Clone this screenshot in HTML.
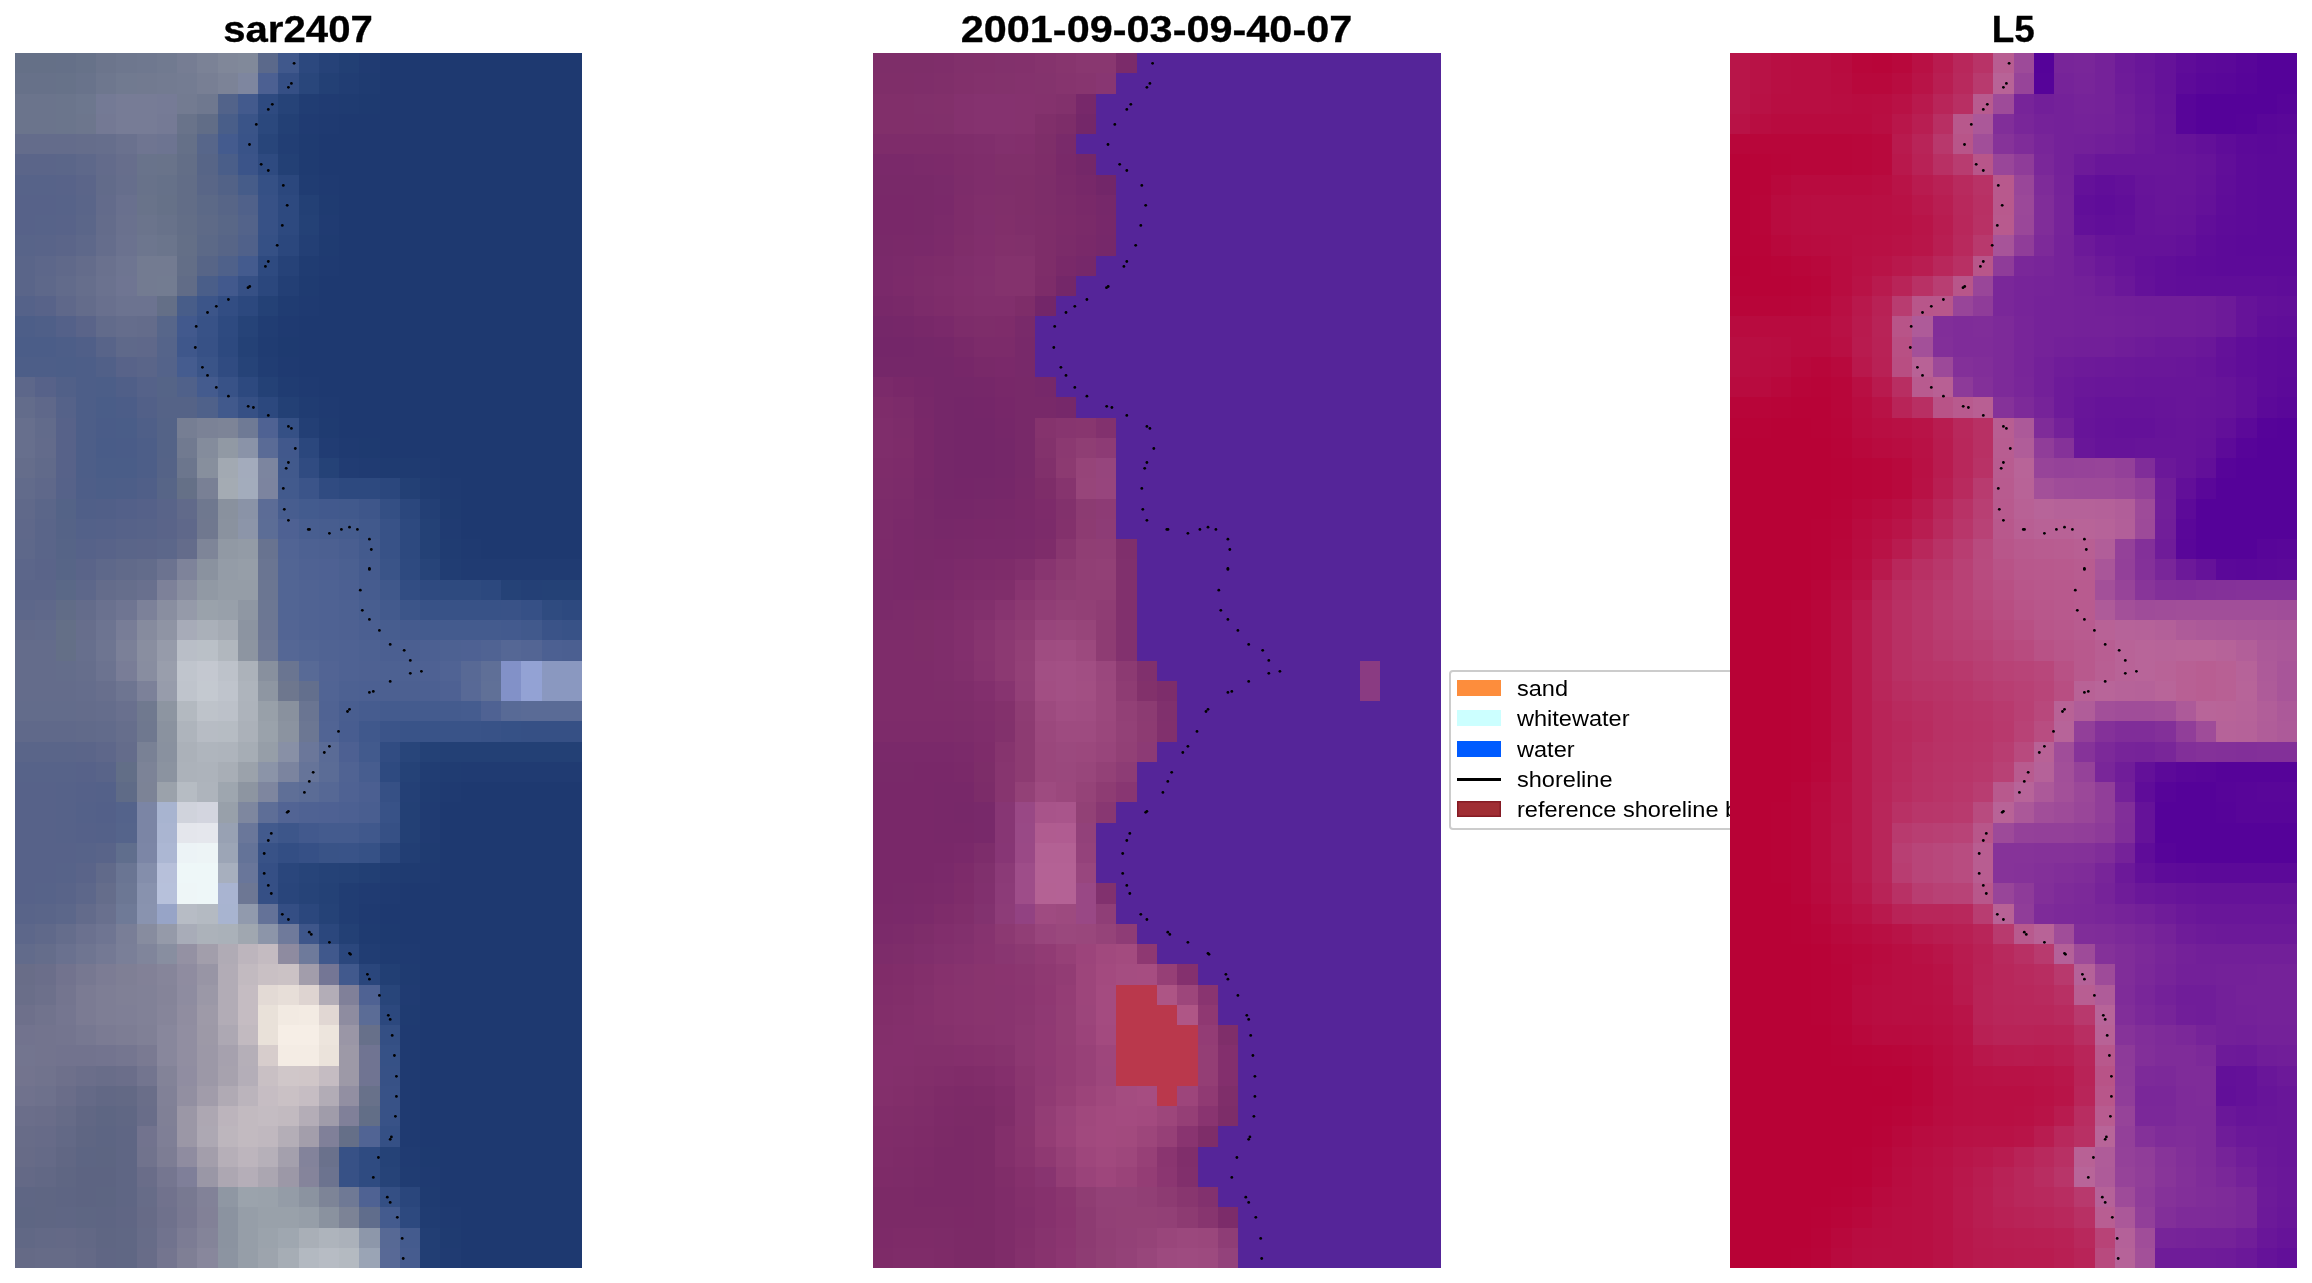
<!DOCTYPE html>
<html><head><meta charset="utf-8"><title>shoreline detection</title>
<style>
html,body{margin:0;padding:0;background:#fff}
body{width:2312px;height:1283px;position:relative;overflow:hidden;font-family:"Liberation Sans",sans-serif;color:#000}
.panel{position:absolute;top:53px;width:567px;height:1215px;overflow:hidden}
.panel svg{position:absolute;left:0;top:0;width:100%;height:1215px;display:block}
.dots circle{fill:#000}
.title{position:absolute;top:10px;height:40px;line-height:40px;font-weight:bold;font-size:36.5px;-webkit-text-stroke:0.3px #000;text-align:center;white-space:nowrap;width:567px}
.title span{display:inline-block;will-change:transform;transform:scaleX(1.08);transform-origin:50% 50%}
.legend{position:absolute;left:1449px;top:670px;width:330px;height:156px;border:2px solid #ccc;border-radius:4px;background:#fff;box-sizing:content-box}
.legend .it{position:absolute;left:6px;height:30px;width:340px}
.legend .sw{position:absolute;left:0;top:6px;width:44px;height:16px}
.legend .ln{position:absolute;left:0;top:13px;width:44px;height:3px;background:#000}
.legend .tx{position:absolute;left:60px;top:0;line-height:30px;font-size:22px;white-space:nowrap;will-change:transform;transform:scaleX(1.07);transform-origin:0 50%}
</style></head><body>

<div class="title" style="left:15px"><span style="transform:scaleX(1.1)">sar2407</span></div>
<div class="title" style="left:873px"><span style="transform:scaleX(1.135)">2001-09-03-09-40-07</span></div>
<div class="title" style="left:1730px"><span style="transform:scaleX(1.01)">L5</span></div>
<div class="panel" style="left:15px">
<svg class="im" viewBox="0 0 28 60" preserveAspectRatio="none" shape-rendering="crispEdges">
<path fill="#657087" d="M0 0h2v1h-2zM8 21h1v1h-1z"/>
<path fill="#657088" d="M2 0h1v1h-1zM8 4h1v1h-1z"/>
<path fill="#677289" d="M3 0h1v1h-1zM2 1h1v1h-1z"/>
<path fill="#6c758c" d="M4 0h1v1h-1z"/>
<path fill="#6e778e" d="M5 0h1v1h-1zM4 1h1v1h-1zM13 31h1v1h-1z"/>
<path fill="#6f788f" d="M6 0h1v1h-1zM9 2h1v1h-1zM9 22h1v1h-1zM6 33h1v1h-1z"/>
<path fill="#717a90" d="M7 0h1v1h-1zM5 1h1v1h-1zM8 19h1v1h-1z"/>
<path fill="#767d93" d="M8 0h1v1h-1z"/>
<path fill="#7b8296" d="M9 0h1v1h-1zM9 18h1v1h-1z"/>
<path fill="#808799" d="M10 0h1v1h-1z"/>
<path fill="#81899a" d="M11 0h1v1h-1z"/>
<path fill="#5b698b" d="M12 0h1v1h-1z"/>
<path fill="#40588c" d="M13 0h1v1h-1zM17 33h1v1h-1zM17 38h1v1h-1zM15 44h1v1h-1z"/>
<path fill="#2c487e" d="M14 0h1v1h-1zM11 12h1v1h-1zM12 17h1v1h-1zM23 26h1v1h-1zM18 47h1v1h-1z"/>
<path fill="#264278" d="M15 0h1v1h-1zM13 10h1v1h-1z"/>
<path fill="#223f74" d="M16 0h1v1h-1zM17 40h1v1h-1zM18 45h1v1h-1z"/>
<path fill="#203b72" d="M17 0h1v1h-1zM15 2h1v1h-1zM14 3h1v1h-1zM15 8h1v1h-1zM17 20h1v1h-1zM21 23h1v1h-1zM22 25h6v1h-6zM22 35h6v1h-6zM20 37h1v1h-1zM20 38h1v1h-1zM17 41h1v1h-1zM19 46h1v1h-1zM19 54h1v1h-1zM21 59h1v1h-1z"/>
<path fill="#1e3970" d="M18 0h10v1h-10zM18 1h10v1h-10zM18 2h10v1h-10zM16 3h12v1h-12zM15 4h13v1h-13zM15 5h13v1h-13zM16 6h12v1h-12zM16 7h12v1h-12zM16 8h12v1h-12zM16 9h12v1h-12zM16 10h12v1h-12zM15 11h13v1h-13zM15 12h13v1h-13zM14 13h14v1h-14zM14 14h14v1h-14zM14 15h14v1h-14zM15 16h13v1h-13zM16 17h12v1h-12zM16 18h12v1h-12zM18 19h10v1h-10zM21 20h7v1h-7zM22 21h6v1h-6zM22 22h6v1h-6zM22 23h6v1h-6zM23 24h5v1h-5zM22 36h6v1h-6zM21 37h7v1h-7zM21 38h7v1h-7zM21 39h7v1h-7zM21 40h7v1h-7zM19 41h9v1h-9zM18 42h10v1h-10zM19 43h9v1h-9zM20 44h8v1h-8zM20 45h8v1h-8zM20 46h8v1h-8zM20 47h8v1h-8zM20 48h8v1h-8zM20 49h8v1h-8zM20 50h8v1h-8zM20 51h8v1h-8zM20 52h8v1h-8zM20 53h8v1h-8zM21 54h7v1h-7zM21 55h7v1h-7zM21 56h7v1h-7zM22 57h6v1h-6zM22 58h6v1h-6zM22 59h6v1h-6z"/>
<path fill="#677189" d="M0 1h2v1h-2z"/>
<path fill="#69738b" d="M3 1h1v1h-1zM6 5h1v1h-1z"/>
<path fill="#727a90" d="M6 1h1v1h-1z"/>
<path fill="#737b91" d="M7 1h1v1h-1zM8 2h1v1h-1zM6 10h2v1h-2zM6 11h1v1h-1z"/>
<path fill="#747c92" d="M8 1h1v1h-1z"/>
<path fill="#787f94" d="M9 1h1v1h-1z"/>
<path fill="#7c8397" d="M10 1h1v1h-1zM6 35h1v1h-1z"/>
<path fill="#7e869f" d="M11 1h1v1h-1zM12 36h1v1h-1z"/>
<path fill="#4c6092" d="M12 1h1v1h-1zM16 26h1v1h-1zM20 29h1v1h-1zM26 29h1v1h-1zM17 31h1v1h-1zM20 31h1v1h-1zM16 37h1v1h-1z"/>
<path fill="#354f85" d="M13 1h1v1h-1zM12 40h1v1h-1zM12 41h1v1h-1z"/>
<path fill="#29467b" d="M14 1h1v1h-1z"/>
<path fill="#234075" d="M15 1h1v1h-1zM13 3h1v1h-1zM13 5h1v1h-1zM14 7h1v1h-1zM13 17h1v1h-1zM19 21h1v1h-1zM21 34h7v1h-7zM19 37h1v1h-1zM19 38h1v1h-1zM16 43h1v1h-1z"/>
<path fill="#213d73" d="M16 1h1v1h-1zM14 2h1v1h-1zM12 13h1v1h-1zM12 15h1v1h-1zM21 25h1v1h-1zM20 35h1v1h-1zM16 41h1v1h-1zM16 42h1v1h-1zM17 44h1v1h-1z"/>
<path fill="#1f3b71" d="M17 1h1v1h-1zM16 2h1v1h-1zM14 4h1v1h-1zM14 5h1v1h-1zM15 7h1v1h-1zM15 9h1v1h-1zM14 11h1v1h-1zM15 18h1v1h-1zM18 20h2v1h-2zM21 22h1v1h-1zM20 39h1v1h-1zM19 40h1v1h-1zM17 43h1v1h-1zM18 44h1v1h-1zM19 45h1v1h-1zM19 47h1v1h-1zM20 56h1v1h-1zM21 58h1v1h-1z"/>
<path fill="#6b748c" d="M0 2h2v1h-2zM0 3h2v1h-2zM6 8h1v1h-1z"/>
<path fill="#6b758c" d="M2 2h1v1h-1zM2 3h1v1h-1zM7 9h1v1h-1z"/>
<path fill="#6d778e" d="M3 2h1v1h-1z"/>
<path fill="#747a95" d="M4 2h1v1h-1z"/>
<path fill="#777c96" d="M5 2h2v1h-2zM5 3h2v1h-2z"/>
<path fill="#767b96" d="M7 2h1v1h-1z"/>
<path fill="#52638a" d="M10 2h1v1h-1z"/>
<path fill="#435a8d" d="M11 2h1v1h-1zM17 24h1v1h-1zM18 27h1v1h-1z"/>
<path fill="#2e4a80" d="M12 2h1v1h-1zM12 5h1v1h-1zM12 10h1v1h-1zM10 13h1v1h-1zM19 25h1v1h-1zM18 35h1v1h-1z"/>
<path fill="#264378" d="M13 2h1v1h-1zM11 13h1v1h-1zM11 15h1v1h-1zM14 41h1v1h-1zM18 55h1v1h-1z"/>
<path fill="#1e3a70" d="M17 2h1v1h-1zM13 14h1v1h-1zM17 19h1v1h-1zM18 43h1v1h-1zM20 54h1v1h-1z"/>
<path fill="#6d768d" d="M3 3h1v1h-1z"/>
<path fill="#747994" d="M4 3h1v1h-1zM4 44h1v1h-1z"/>
<path fill="#757a95" d="M7 3h1v1h-1z"/>
<path fill="#69738a" d="M8 3h1v1h-1zM7 5h1v1h-1zM6 7h1v1h-1z"/>
<path fill="#616d87" d="M9 3h1v1h-1z"/>
<path fill="#495e89" d="M10 3h1v1h-1z"/>
<path fill="#3a5488" d="M11 3h1v1h-1zM9 15h1v1h-1zM18 25h1v1h-1z"/>
<path fill="#2b487d" d="M12 3h1v1h-1z"/>
<path fill="#1f3a71" d="M15 3h1v1h-1zM15 6h1v1h-1zM15 10h1v1h-1zM14 12h1v1h-1zM13 13h1v1h-1zM13 15h1v1h-1zM14 16h1v1h-1zM15 17h1v1h-1zM16 19h1v1h-1zM20 20h1v1h-1zM21 21h1v1h-1zM22 24h1v1h-1zM21 36h1v1h-1zM20 40h1v1h-1zM18 41h1v1h-1zM17 42h1v1h-1zM19 44h1v1h-1zM19 48h1v1h-1zM19 49h1v1h-1zM19 50h1v1h-1zM19 51h1v1h-1zM19 52h1v1h-1zM19 53h1v1h-1zM20 55h1v1h-1zM21 57h1v1h-1z"/>
<path fill="#646c8b" d="M0 4h3v1h-3zM4 8h1v1h-1zM3 10h1v1h-1zM3 12h1v1h-1zM6 13h1v1h-1zM8 24h1v1h-1zM4 26h1v1h-1zM3 27h1v1h-1zM0 29h2v1h-2zM0 30h2v1h-2zM0 31h3v1h-3zM3 32h1v1h-1zM5 34h1v1h-1z"/>
<path fill="#656d8b" d="M3 4h1v1h-1zM0 20h1v1h-1zM4 41h1v1h-1zM1 44h1v1h-1z"/>
<path fill="#666e8c" d="M4 4h1v1h-1zM5 6h1v1h-1zM3 11h1v1h-1zM5 26h1v1h-1zM3 30h1v1h-1zM5 33h1v1h-1z"/>
<path fill="#6a718e" d="M5 4h1v1h-1zM5 8h1v1h-1zM4 10h1v1h-1z"/>
<path fill="#6f7591" d="M6 4h1v1h-1zM3 44h1v1h-1z"/>
<path fill="#6d7491" d="M7 4h1v1h-1zM4 28h1v1h-1z"/>
<path fill="#57668a" d="M9 4h1v1h-1zM7 13h1v1h-1z"/>
<path fill="#445b8e" d="M10 4h1v1h-1zM11 10h1v1h-1zM9 16h1v1h-1zM20 28h4v1h-4zM18 32h4v1h-4zM15 38h2v1h-2zM18 57h1v1h-1zM19 58h1v1h-1z"/>
<path fill="#395388" d="M11 4h1v1h-1zM19 33h4v1h-4zM16 39h1v1h-1z"/>
<path fill="#28457a" d="M12 4h1v1h-1zM19 34h1v1h-1zM18 46h1v1h-1z"/>
<path fill="#223e74" d="M13 4h1v1h-1zM19 39h1v1h-1zM20 58h1v1h-1zM20 59h1v1h-1z"/>
<path fill="#5b6589" d="M0 5h2v1h-2zM3 6h1v1h-1zM2 9h1v1h-1zM6 24h1v1h-1zM0 26h2v1h-2zM3 34h1v1h-1z"/>
<path fill="#5b6689" d="M2 5h1v1h-1zM3 8h1v1h-1zM1 22h1v1h-1z"/>
<path fill="#5e688a" d="M3 5h1v1h-1zM3 9h1v1h-1zM1 11h1v1h-1zM0 24h1v1h-1zM4 25h1v1h-1z"/>
<path fill="#636b8b" d="M4 5h1v1h-1zM4 7h1v1h-1zM1 19h1v1h-1zM3 42h1v1h-1z"/>
<path fill="#676e8c" d="M5 5h1v1h-1zM3 28h1v1h-1z"/>
<path fill="#636e87" d="M8 5h1v1h-1zM8 8h1v1h-1zM8 10h1v1h-1z"/>
<path fill="#576587" d="M9 5h1v1h-1zM10 7h1v1h-1zM10 9h1v1h-1zM9 10h1v1h-1zM7 21h1v1h-1zM2 25h1v1h-1z"/>
<path fill="#4a5e89" d="M10 5h1v1h-1zM9 11h1v1h-1z"/>
<path fill="#3b5489" d="M11 5h1v1h-1zM14 21h1v1h-1zM18 33h1v1h-1z"/>
<path fill="#576389" d="M0 6h2v1h-2zM2 7h1v1h-1zM1 8h1v1h-1zM6 23h1v1h-1zM0 35h3v1h-3zM3 39h1v1h-1zM2 40h1v1h-1zM1 41h1v1h-1z"/>
<path fill="#586389" d="M2 6h1v1h-1zM2 8h1v1h-1zM1 12h1v1h-1zM5 15h1v1h-1zM4 24h1v1h-1z"/>
<path fill="#626b8a" d="M4 6h1v1h-1z"/>
<path fill="#68728a" d="M6 6h1v1h-1zM7 8h1v1h-1z"/>
<path fill="#667189" d="M7 6h1v1h-1z"/>
<path fill="#626d87" d="M8 6h1v1h-1zM8 7h1v1h-1z"/>
<path fill="#596687" d="M9 6h1v1h-1z"/>
<path fill="#526287" d="M10 6h1v1h-1z"/>
<path fill="#465c89" d="M11 6h1v1h-1z"/>
<path fill="#355085" d="M12 6h1v1h-1zM12 9h1v1h-1zM13 18h1v1h-1zM18 53h1v1h-1z"/>
<path fill="#2b477d" d="M13 6h1v1h-1zM13 9h1v1h-1zM12 11h1v1h-1zM14 19h1v1h-1zM18 21h1v1h-1zM19 22h1v1h-1zM18 39h1v1h-1zM14 42h1v1h-1zM15 43h1v1h-1zM16 44h1v1h-1z"/>
<path fill="#203c72" d="M14 6h1v1h-1zM14 10h1v1h-1zM13 12h1v1h-1zM12 14h1v1h-1zM13 16h1v1h-1zM14 17h1v1h-1zM20 21h1v1h-1zM21 24h1v1h-1zM21 35h1v1h-1zM20 36h1v1h-1zM18 40h1v1h-1zM19 55h1v1h-1zM20 57h1v1h-1z"/>
<path fill="#576289" d="M0 7h2v1h-2zM0 8h1v1h-1zM1 16h1v1h-1zM2 18h1v1h-1zM2 19h1v1h-1zM2 20h1v1h-1zM3 35h1v1h-1zM0 36h2v1h-2zM0 37h2v1h-2zM0 38h2v1h-2zM0 39h3v1h-3zM0 40h2v1h-2zM0 41h1v1h-1z"/>
<path fill="#5a6589" d="M3 7h1v1h-1zM0 10h1v1h-1zM0 11h1v1h-1zM6 15h1v1h-1zM1 23h1v1h-1zM1 24h1v1h-1zM5 24h1v1h-1zM0 34h3v1h-3zM1 42h1v1h-1z"/>
<path fill="#69708e" d="M5 7h1v1h-1zM4 12h1v1h-1zM6 26h1v1h-1zM5 32h1v1h-1zM4 42h1v1h-1z"/>
<path fill="#667188" d="M7 7h1v1h-1z"/>
<path fill="#5c6987" d="M9 7h1v1h-1zM9 9h1v1h-1z"/>
<path fill="#50618a" d="M11 7h1v1h-1zM11 9h1v1h-1zM8 16h1v1h-1z"/>
<path fill="#375186" d="M12 7h1v1h-1zM12 8h1v1h-1zM9 14h1v1h-1zM18 50h1v1h-1zM16 54h1v1h-1zM16 55h1v1h-1z"/>
<path fill="#2d497f" d="M13 7h1v1h-1zM13 8h1v1h-1zM10 14h1v1h-1zM11 16h1v1h-1zM16 21h2v1h-2zM19 23h1v1h-1zM19 24h1v1h-1zM27 27h1v1h-1zM19 57h1v1h-1z"/>
<path fill="#5e6a87" d="M9 8h1v1h-1z"/>
<path fill="#596787" d="M10 8h1v1h-1z"/>
<path fill="#53638a" d="M11 8h1v1h-1z"/>
<path fill="#244176" d="M14 8h1v1h-1zM12 12h1v1h-1zM11 14h1v1h-1zM12 16h1v1h-1zM20 23h1v1h-1zM20 24h1v1h-1zM26 26h2v1h-2zM20 34h1v1h-1zM16 40h1v1h-1zM15 41h1v1h-1z"/>
<path fill="#586489" d="M0 9h1v1h-1zM4 14h1v1h-1z"/>
<path fill="#596489" d="M1 9h1v1h-1zM7 22h1v1h-1zM4 35h1v1h-1zM4 39h1v1h-1zM2 41h1v1h-1zM0 42h1v1h-1z"/>
<path fill="#656d8c" d="M4 9h1v1h-1zM5 13h1v1h-1zM3 31h1v1h-1zM4 32h1v1h-1zM2 43h1v1h-1z"/>
<path fill="#6b728f" d="M5 9h1v1h-1zM4 11h1v1h-1z"/>
<path fill="#6d768e" d="M6 9h1v1h-1z"/>
<path fill="#646f87" d="M8 9h1v1h-1zM7 12h1v1h-1zM2 28h1v1h-1zM2 29h1v1h-1z"/>
<path fill="#233f75" d="M14 9h1v1h-1zM13 11h1v1h-1zM14 18h1v1h-1zM20 22h1v1h-1z"/>
<path fill="#5d678a" d="M1 10h1v1h-1zM0 16h1v1h-1zM3 26h1v1h-1zM0 27h1v1h-1zM3 41h1v1h-1zM0 43h1v1h-1z"/>
<path fill="#60698a" d="M2 10h1v1h-1zM0 22h1v1h-1zM0 33h3v1h-3zM1 43h1v1h-1z"/>
<path fill="#6e7591" d="M5 10h1v1h-1zM4 29h1v1h-1zM5 31h1v1h-1z"/>
<path fill="#4f618a" d="M10 10h1v1h-1zM9 17h1v1h-1z"/>
<path fill="#626b8b" d="M2 11h1v1h-1zM4 13h1v1h-1zM1 18h1v1h-1zM0 21h1v1h-1zM1 28h1v1h-1zM4 33h1v1h-1zM0 44h1v1h-1z"/>
<path fill="#6f7592" d="M5 11h1v1h-1zM5 27h1v1h-1zM4 43h1v1h-1z"/>
<path fill="#737c91" d="M7 11h1v1h-1z"/>
<path fill="#616c87" d="M8 11h1v1h-1zM2 27h1v1h-1z"/>
<path fill="#42598d" d="M10 11h1v1h-1zM8 13h1v1h-1zM15 22h1v1h-1zM14 38h1v1h-1z"/>
<path fill="#365085" d="M11 11h1v1h-1zM11 17h1v1h-1zM25 33h3v1h-3zM18 36h1v1h-1zM18 38h1v1h-1z"/>
<path fill="#556289" d="M0 12h1v1h-1zM6 16h1v1h-1zM2 17h1v1h-1z"/>
<path fill="#5f688a" d="M2 12h1v1h-1zM6 14h1v1h-1zM1 17h1v1h-1zM1 21h1v1h-1zM0 23h1v1h-1zM8 23h1v1h-1zM1 27h1v1h-1z"/>
<path fill="#6c7390" d="M5 12h2v1h-2zM7 25h1v1h-1zM4 30h1v1h-1z"/>
<path fill="#485d89" d="M8 12h1v1h-1z"/>
<path fill="#3c5589" d="M9 12h1v1h-1zM19 27h1v1h-1z"/>
<path fill="#324d83" d="M10 12h1v1h-1zM19 26h1v1h-1z"/>
<path fill="#4d5e88" d="M0 13h1v1h-1zM2 14h1v1h-1zM0 15h2v1h-2zM3 15h1v1h-1zM3 16h1v1h-1zM3 17h1v1h-1zM3 18h1v1h-1zM3 19h1v1h-1zM6 19h1v1h-1zM3 20h1v1h-1zM6 20h1v1h-1zM5 21h1v1h-1z"/>
<path fill="#4f5f88" d="M1 13h1v1h-1zM6 18h1v1h-1z"/>
<path fill="#546189" d="M2 13h1v1h-1zM4 23h1v1h-1zM4 36h1v1h-1zM3 37h1v1h-1zM4 38h1v1h-1z"/>
<path fill="#5a6489" d="M3 13h1v1h-1zM7 23h1v1h-1zM1 25h1v1h-1zM3 25h1v1h-1zM3 40h1v1h-1z"/>
<path fill="#385287" d="M9 13h1v1h-1zM10 16h1v1h-1zM18 23h1v1h-1zM18 24h1v1h-1zM20 27h4v1h-4zM27 28h1v1h-1zM23 33h1v1h-1zM18 37h1v1h-1zM12 39h1v1h-1zM18 51h1v1h-1zM18 52h1v1h-1z"/>
<path fill="#4b5d88" d="M0 14h2v1h-2z"/>
<path fill="#505f88" d="M3 14h1v1h-1zM5 16h1v1h-1zM6 21h1v1h-1zM3 22h1v1h-1z"/>
<path fill="#5f698a" d="M5 14h1v1h-1z"/>
<path fill="#55648a" d="M7 14h1v1h-1z"/>
<path fill="#3f578b" d="M8 14h1v1h-1z"/>
<path fill="#4c5e88" d="M2 15h1v1h-1zM4 16h1v1h-1zM4 21h1v1h-1z"/>
<path fill="#516088" d="M4 15h1v1h-1zM2 16h1v1h-1z"/>
<path fill="#54638a" d="M7 15h1v1h-1z"/>
<path fill="#455c8f" d="M8 15h1v1h-1zM22 32h1v1h-1z"/>
<path fill="#304b81" d="M10 15h1v1h-1zM14 20h1v1h-1zM15 21h1v1h-1z"/>
<path fill="#556487" d="M7 16h1v1h-1z"/>
<path fill="#636c8b" d="M0 17h1v1h-1zM6 25h1v1h-1zM0 32h3v1h-3z"/>
<path fill="#4a5d88" d="M4 17h1v1h-1zM5 18h1v1h-1zM4 20h2v1h-2z"/>
<path fill="#4c5d88" d="M5 17h1v1h-1z"/>
<path fill="#526088" d="M6 17h1v1h-1z"/>
<path fill="#556387" d="M7 17h2v1h-2zM7 20h1v1h-1zM2 23h1v1h-1z"/>
<path fill="#41598c" d="M10 17h1v1h-1zM13 20h1v1h-1zM16 22h1v1h-1zM17 23h1v1h-1zM25 28h1v1h-1z"/>
<path fill="#676f8d" d="M0 18h1v1h-1zM0 19h1v1h-1zM3 29h1v1h-1z"/>
<path fill="#4a5c88" d="M4 18h1v1h-1zM5 19h1v1h-1z"/>
<path fill="#546387" d="M7 18h1v1h-1zM7 19h1v1h-1zM2 22h1v1h-1z"/>
<path fill="#767e93" d="M8 18h1v1h-1z"/>
<path fill="#7d8497" d="M10 18h1v1h-1zM15 56h1v1h-1z"/>
<path fill="#6f7a95" d="M11 18h1v1h-1z"/>
<path fill="#4f6293" d="M12 18h1v1h-1zM14 25h1v1h-1zM15 27h1v1h-1zM15 28h1v1h-1zM16 29h1v1h-1zM16 30h1v1h-1zM23 32h1v1h-1zM16 36h1v1h-1zM14 37h1v1h-1zM17 46h1v1h-1zM17 56h1v1h-1z"/>
<path fill="#495c88" d="M4 19h1v1h-1z"/>
<path fill="#848c9c" d="M9 19h1v1h-1z"/>
<path fill="#9199a4" d="M10 19h1v1h-1zM10 24h1v1h-1zM9 26h1v1h-1z"/>
<path fill="#8a93a8" d="M11 19h1v1h-1z"/>
<path fill="#5a6b96" d="M12 19h1v1h-1zM25 32h3v1h-3zM15 34h1v1h-1z"/>
<path fill="#41588c" d="M13 19h1v1h-1z"/>
<path fill="#213c73" d="M15 19h1v1h-1zM16 20h1v1h-1z"/>
<path fill="#616a8a" d="M1 20h1v1h-1zM8 22h1v1h-1zM5 25h1v1h-1zM3 33h1v1h-1zM4 40h1v1h-1z"/>
<path fill="#6c768d" d="M8 20h1v1h-1z"/>
<path fill="#878f9d" d="M9 20h1v1h-1z"/>
<path fill="#a2a9b2" d="M10 20h1v1h-1z"/>
<path fill="#a3abbc" d="M11 20h1v1h-1z"/>
<path fill="#7c859f" d="M12 20h1v1h-1z"/>
<path fill="#254277" d="M15 20h1v1h-1zM24 26h1v1h-1zM19 35h1v1h-1zM15 40h1v1h-1zM15 42h1v1h-1zM18 54h1v1h-1z"/>
<path fill="#566289" d="M2 21h1v1h-1zM5 23h1v1h-1zM3 24h1v1h-1zM2 36h1v1h-1zM2 37h1v1h-1zM2 38h1v1h-1z"/>
<path fill="#4e5e88" d="M3 21h1v1h-1z"/>
<path fill="#798095" d="M9 21h1v1h-1z"/>
<path fill="#a4abb3" d="M10 21h1v1h-1z"/>
<path fill="#a3acbc" d="M11 21h1v1h-1z"/>
<path fill="#7c849f" d="M12 21h1v1h-1z"/>
<path fill="#425a8d" d="M13 21h1v1h-1zM17 34h1v1h-1zM12 38h1v1h-1z"/>
<path fill="#515f88" d="M4 22h1v1h-1z"/>
<path fill="#536089" d="M5 22h1v1h-1zM4 37h1v1h-1z"/>
<path fill="#556189" d="M6 22h1v1h-1zM3 36h1v1h-1zM3 38h1v1h-1z"/>
<path fill="#89919e" d="M10 22h1v1h-1zM13 32h1v1h-1z"/>
<path fill="#8a93a7" d="M11 22h1v1h-1z"/>
<path fill="#5c6c96" d="M12 22h1v1h-1z"/>
<path fill="#475d8f" d="M13 22h1v1h-1zM15 23h1v1h-1zM18 28h1v1h-1zM17 35h1v1h-1z"/>
<path fill="#435b8e" d="M14 22h1v1h-1z"/>
<path fill="#3e568a" d="M17 22h1v1h-1zM14 43h1v1h-1z"/>
<path fill="#344f84" d="M18 22h1v1h-1zM18 48h1v1h-1zM18 56h1v1h-1z"/>
<path fill="#536189" d="M3 23h1v1h-1z"/>
<path fill="#70788f" d="M9 23h1v1h-1z"/>
<path fill="#8a929f" d="M10 23h1v1h-1zM9 25h1v1h-1zM7 33h1v1h-1zM15 57h1v1h-1z"/>
<path fill="#8c95a9" d="M11 23h1v1h-1zM12 43h1v1h-1z"/>
<path fill="#5c6d96" d="M12 23h1v1h-1z"/>
<path fill="#4e6193" d="M13 23h1v1h-1zM15 25h1v1h-1zM22 29h1v1h-1zM20 30h1v1h-1zM21 31h1v1h-1zM15 37h1v1h-1z"/>
<path fill="#485e90" d="M14 23h1v1h-1zM17 27h1v1h-1z"/>
<path fill="#455c8e" d="M16 23h1v1h-1z"/>
<path fill="#566487" d="M2 24h1v1h-1z"/>
<path fill="#5c678a" d="M7 24h1v1h-1zM2 42h1v1h-1z"/>
<path fill="#7e8598" d="M9 24h1v1h-1z"/>
<path fill="#939ba6" d="M11 24h1v1h-1z"/>
<path fill="#687390" d="M12 24h1v1h-1z"/>
<path fill="#516494" d="M13 24h1v1h-1zM15 31h1v1h-1zM15 33h1v1h-1zM17 53h1v1h-1z"/>
<path fill="#4d6192" d="M14 24h1v1h-1zM16 27h1v1h-1zM17 29h1v1h-1zM21 29h1v1h-1zM18 30h2v1h-2zM16 31h1v1h-1z"/>
<path fill="#4c6091" d="M15 24h1v1h-1zM18 31h2v1h-2z"/>
<path fill="#495e90" d="M16 24h1v1h-1zM16 32h1v1h-1zM17 37h1v1h-1z"/>
<path fill="#5c668a" d="M0 25h1v1h-1z"/>
<path fill="#7e839a" d="M8 25h1v1h-1z"/>
<path fill="#949ca7" d="M10 25h1v1h-1zM13 56h1v1h-1z"/>
<path fill="#969ea8" d="M11 25h1v1h-1zM12 34h1v1h-1zM11 57h1v1h-1zM14 57h1v1h-1zM11 58h1v1h-1zM11 59h1v1h-1z"/>
<path fill="#6a7592" d="M12 25h1v1h-1zM14 32h1v1h-1z"/>
<path fill="#526594" d="M13 25h1v1h-1zM13 26h1v1h-1zM13 27h1v1h-1zM14 29h1v1h-1z"/>
<path fill="#4b6091" d="M16 25h1v1h-1z"/>
<path fill="#455b8e" d="M17 25h1v1h-1zM19 28h1v1h-1z"/>
<path fill="#274479" d="M20 25h1v1h-1zM14 40h1v1h-1z"/>
<path fill="#5a6887" d="M2 26h1v1h-1z"/>
<path fill="#7d8199" d="M7 26h1v1h-1z"/>
<path fill="#898ea0" d="M8 26h1v1h-1zM7 27h1v1h-1zM6 29h1v1h-1z"/>
<path fill="#959da7" d="M10 26h2v1h-2z"/>
<path fill="#6b7692" d="M12 26h1v1h-1z"/>
<path fill="#506393" d="M14 26h1v1h-1zM14 27h1v1h-1zM14 28h1v1h-1zM15 29h1v1h-1zM23 29h1v1h-1zM15 32h1v1h-1zM16 35h1v1h-1z"/>
<path fill="#4e6293" d="M15 26h1v1h-1z"/>
<path fill="#465c8f" d="M17 26h1v1h-1zM17 32h1v1h-1zM19 59h1v1h-1z"/>
<path fill="#40588b" d="M18 26h1v1h-1z"/>
<path fill="#2f4a80" d="M20 26h1v1h-1z"/>
<path fill="#2e4a7f" d="M21 26h2v1h-2z"/>
<path fill="#244076" d="M25 26h1v1h-1zM19 36h1v1h-1z"/>
<path fill="#6a718f" d="M4 27h1v1h-1zM2 44h1v1h-1z"/>
<path fill="#7c8199" d="M6 27h1v1h-1zM6 31h1v1h-1z"/>
<path fill="#959aa9" d="M8 27h1v1h-1zM7 43h1v1h-1z"/>
<path fill="#9aa2ab" d="M9 27h1v1h-1zM12 33h1v1h-1zM12 56h1v1h-1z"/>
<path fill="#98a0aa" d="M10 27h1v1h-1zM10 37h1v1h-1z"/>
<path fill="#8f97a3" d="M11 27h1v1h-1zM10 56h1v1h-1z"/>
<path fill="#6c7793" d="M12 27h1v1h-1zM14 33h1v1h-1z"/>
<path fill="#395287" d="M24 27h1v1h-1z"/>
<path fill="#365086" d="M25 27h1v1h-1zM14 39h1v1h-1z"/>
<path fill="#2f4b80" d="M26 27h1v1h-1z"/>
<path fill="#626a8a" d="M0 28h1v1h-1z"/>
<path fill="#787d97" d="M5 28h1v1h-1z"/>
<path fill="#868b9e" d="M6 28h1v1h-1z"/>
<path fill="#8f94a4" d="M7 28h1v1h-1z"/>
<path fill="#a7abb8" d="M8 28h1v1h-1z"/>
<path fill="#aab0b9" d="M9 28h1v1h-1z"/>
<path fill="#a5abb4" d="M10 28h1v1h-1z"/>
<path fill="#8c94a1" d="M11 28h1v1h-1zM10 59h1v1h-1z"/>
<path fill="#6d7794" d="M12 28h1v1h-1zM11 41h1v1h-1z"/>
<path fill="#536594" d="M13 28h1v1h-1zM25 29h1v1h-1z"/>
<path fill="#4e6192" d="M16 28h1v1h-1zM17 30h1v1h-1z"/>
<path fill="#4b5f91" d="M17 28h1v1h-1zM18 29h2v1h-2zM27 29h1v1h-1zM17 36h1v1h-1z"/>
<path fill="#435a8e" d="M24 28h1v1h-1z"/>
<path fill="#3a5388" d="M26 28h1v1h-1z"/>
<path fill="#7b8098" d="M5 29h1v1h-1z"/>
<path fill="#969baa" d="M7 29h1v1h-1z"/>
<path fill="#b9bec7" d="M8 29h1v1h-1z"/>
<path fill="#bac0c7" d="M9 29h1v1h-1z"/>
<path fill="#b1b7be" d="M10 29h1v1h-1z"/>
<path fill="#8d95a1" d="M11 29h1v1h-1zM7 32h1v1h-1zM11 36h1v1h-1z"/>
<path fill="#6f7995" d="M12 29h1v1h-1zM16 56h1v1h-1z"/>
<path fill="#556795" d="M13 29h1v1h-1zM24 29h1v1h-1z"/>
<path fill="#646d8b" d="M2 30h1v1h-1z"/>
<path fill="#797d97" d="M5 30h1v1h-1z"/>
<path fill="#888da0" d="M6 30h1v1h-1z"/>
<path fill="#999eac" d="M7 30h1v1h-1z"/>
<path fill="#c0c5cd" d="M8 30h1v1h-1z"/>
<path fill="#c4c8d0" d="M9 30h1v1h-1z"/>
<path fill="#bdc2ca" d="M10 30h1v1h-1z"/>
<path fill="#acb2ba" d="M11 30h1v1h-1zM8 35h1v1h-1zM9 43h1v1h-1z"/>
<path fill="#88909e" d="M12 30h1v1h-1z"/>
<path fill="#6a7591" d="M13 30h1v1h-1z"/>
<path fill="#586a96" d="M14 30h1v1h-1zM24 32h1v1h-1z"/>
<path fill="#526494" d="M15 30h1v1h-1zM13 37h1v1h-1z"/>
<path fill="#506394" d="M21 30h1v1h-1z"/>
<path fill="#586995" d="M22 30h1v1h-1z"/>
<path fill="#5f6f97" d="M23 30h1v1h-1zM13 36h1v1h-1z"/>
<path fill="#8291c8" d="M24 30h1v1h-1zM24 31h1v1h-1z"/>
<path fill="#93a2d4" d="M25 30h1v1h-1zM25 31h1v1h-1z"/>
<path fill="#8a98c0" d="M26 30h2v1h-2zM26 31h2v1h-2z"/>
<path fill="#686f8d" d="M4 31h1v1h-1z"/>
<path fill="#979cab" d="M7 31h1v1h-1z"/>
<path fill="#bfc4cc" d="M8 31h1v1h-1zM10 31h1v1h-1z"/>
<path fill="#c4c9d0" d="M9 31h1v1h-1z"/>
<path fill="#aeb4bc" d="M11 31h1v1h-1zM8 33h1v1h-1zM10 34h1v1h-1zM9 36h1v1h-1zM15 58h1v1h-1z"/>
<path fill="#8e96a2" d="M12 31h1v1h-1z"/>
<path fill="#636f8d" d="M14 31h1v1h-1z"/>
<path fill="#586996" d="M22 31h1v1h-1zM18 59h1v1h-1z"/>
<path fill="#607097" d="M23 31h1v1h-1z"/>
<path fill="#70798f" d="M6 32h1v1h-1z"/>
<path fill="#b3b9c0" d="M8 32h1v1h-1z"/>
<path fill="#bec3ca" d="M9 32h1v1h-1z"/>
<path fill="#bcc1c9" d="M10 32h1v1h-1z"/>
<path fill="#adb3bb" d="M11 32h1v1h-1zM9 35h1v1h-1z"/>
<path fill="#98a0a9" d="M12 32h1v1h-1z"/>
<path fill="#b7bcc4" d="M9 33h1v1h-1zM15 59h1v1h-1z"/>
<path fill="#b6bcc3" d="M10 33h1v1h-1zM8 36h1v1h-1z"/>
<path fill="#abb1b9" d="M11 33h1v1h-1zM8 34h1v1h-1z"/>
<path fill="#8b93a0" d="M13 33h1v1h-1zM7 35h1v1h-1zM14 56h1v1h-1zM10 57h1v1h-1zM10 58h1v1h-1z"/>
<path fill="#485d90" d="M16 33h1v1h-1z"/>
<path fill="#365186" d="M24 33h1v1h-1zM17 39h1v1h-1zM18 49h1v1h-1z"/>
<path fill="#5e678a" d="M4 34h1v1h-1z"/>
<path fill="#798195" d="M6 34h1v1h-1z"/>
<path fill="#89919f" d="M7 34h1v1h-1z"/>
<path fill="#afb5bd" d="M9 34h1v1h-1z"/>
<path fill="#a6adb5" d="M11 34h1v1h-1zM13 59h1v1h-1z"/>
<path fill="#8890a6" d="M13 34h1v1h-1z"/>
<path fill="#6b779a" d="M14 34h1v1h-1z"/>
<path fill="#4d6092" d="M16 34h1v1h-1z"/>
<path fill="#314c82" d="M18 34h1v1h-1z"/>
<path fill="#626e87" d="M5 35h1v1h-1zM17 52h1v1h-1z"/>
<path fill="#a8aeb6" d="M10 35h1v1h-1z"/>
<path fill="#9ba2ab" d="M11 35h1v1h-1zM7 36h1v1h-1z"/>
<path fill="#8b94a8" d="M12 35h1v1h-1z"/>
<path fill="#7b849f" d="M13 35h1v1h-1z"/>
<path fill="#667499" d="M14 35h1v1h-1z"/>
<path fill="#5b6c96" d="M15 35h1v1h-1zM14 36h1v1h-1zM17 47h1v1h-1z"/>
<path fill="#5f6b87" d="M5 36h1v1h-1z"/>
<path fill="#7c8396" d="M6 36h1v1h-1zM16 57h1v1h-1z"/>
<path fill="#9ea6af" d="M10 36h1v1h-1z"/>
<path fill="#566895" d="M15 36h1v1h-1z"/>
<path fill="#54638b" d="M5 37h1v1h-1z"/>
<path fill="#7b85a5" d="M6 37h1v1h-1zM6 38h1v1h-1z"/>
<path fill="#a8b4d0" d="M7 37h1v1h-1zM10 42h1v1h-1z"/>
<path fill="#d0d3dc" d="M8 37h1v1h-1z"/>
<path fill="#d3d5df" d="M9 37h1v1h-1z"/>
<path fill="#7e879f" d="M11 37h1v1h-1z"/>
<path fill="#5e6e97" d="M12 37h1v1h-1z"/>
<path fill="#55648b" d="M5 38h1v1h-1z"/>
<path fill="#aab5d1" d="M7 38h1v1h-1z"/>
<path fill="#e4e6ec" d="M8 38h1v1h-1z"/>
<path fill="#e5e7ed" d="M9 38h1v1h-1z"/>
<path fill="#98a1b3" d="M10 38h1v1h-1z"/>
<path fill="#6a779a" d="M11 38h1v1h-1z"/>
<path fill="#3d568a" d="M13 38h1v1h-1z"/>
<path fill="#606e8d" d="M5 39h1v1h-1z"/>
<path fill="#7c86a6" d="M6 39h1v1h-1z"/>
<path fill="#acb7d3" d="M7 39h1v1h-1z"/>
<path fill="#ecf3f6" d="M8 39h1v1h-1z"/>
<path fill="#edf4f6" d="M9 39h1v1h-1z"/>
<path fill="#9ca5b6" d="M10 39h1v1h-1z"/>
<path fill="#647398" d="M11 39h1v1h-1z"/>
<path fill="#334e84" d="M13 39h1v1h-1z"/>
<path fill="#395387" d="M15 39h1v1h-1z"/>
<path fill="#6a7593" d="M5 40h1v1h-1z"/>
<path fill="#848eab" d="M6 40h1v1h-1z"/>
<path fill="#b7c0da" d="M7 40h1v1h-1z"/>
<path fill="#eef7f8" d="M8 40h2v1h-2zM9 41h1v1h-1z"/>
<path fill="#a7afbe" d="M10 40h1v1h-1z"/>
<path fill="#69769a" d="M11 40h1v1h-1z"/>
<path fill="#2a467c" d="M13 40h1v1h-1zM17 45h1v1h-1zM19 56h1v1h-1z"/>
<path fill="#6c7794" d="M5 41h1v1h-1z"/>
<path fill="#8892ae" d="M6 41h1v1h-1z"/>
<path fill="#b7c1db" d="M7 41h1v1h-1z"/>
<path fill="#eef6f7" d="M8 41h1v1h-1z"/>
<path fill="#a9b4d1" d="M10 41h1v1h-1z"/>
<path fill="#29457b" d="M13 41h1v1h-1z"/>
<path fill="#6f7a97" d="M5 42h1v1h-1z"/>
<path fill="#8993af" d="M6 42h1v1h-1z"/>
<path fill="#97a4c7" d="M7 42h1v1h-1z"/>
<path fill="#b7bcc5" d="M8 42h1v1h-1z"/>
<path fill="#b4bac2" d="M9 42h1v1h-1z"/>
<path fill="#919aad" d="M11 42h1v1h-1z"/>
<path fill="#647298" d="M12 42h1v1h-1z"/>
<path fill="#344e84" d="M13 42h1v1h-1z"/>
<path fill="#6b718f" d="M3 43h1v1h-1z"/>
<path fill="#797e97" d="M5 43h1v1h-1z"/>
<path fill="#878c9f" d="M6 43h1v1h-1z"/>
<path fill="#a8acb8" d="M8 43h1v1h-1z"/>
<path fill="#aab1b9" d="M10 43h1v1h-1z"/>
<path fill="#a0a7b0" d="M11 43h1v1h-1z"/>
<path fill="#6f7a9b" d="M13 43h1v1h-1z"/>
<path fill="#7a7f98" d="M5 44h1v1h-1z"/>
<path fill="#80859b" d="M6 44h1v1h-1z"/>
<path fill="#888ea0" d="M7 44h1v1h-1z"/>
<path fill="#9491a3" d="M8 44h1v1h-1z"/>
<path fill="#a29eab" d="M9 44h1v1h-1z"/>
<path fill="#b0abb5" d="M10 44h1v1h-1z"/>
<path fill="#bdb5bd" d="M11 44h1v1h-1zM11 54h1v1h-1z"/>
<path fill="#c4bbc1" d="M12 44h1v1h-1z"/>
<path fill="#8e8ba0" d="M13 44h1v1h-1z"/>
<path fill="#6e7a9b" d="M14 44h1v1h-1z"/>
<path fill="#696d88" d="M0 45h1v1h-1z"/>
<path fill="#6b6e8a" d="M1 45h1v1h-1zM3 50h1v1h-1zM5 50h1v1h-1zM0 52h1v1h-1z"/>
<path fill="#72738e" d="M2 45h1v1h-1zM0 48h1v1h-1zM2 49h2v1h-2zM6 53h1v1h-1z"/>
<path fill="#777891" d="M3 45h1v1h-1zM3 48h1v1h-1z"/>
<path fill="#7c7c94" d="M4 45h1v1h-1zM8 58h1v1h-1z"/>
<path fill="#7f7f95" d="M5 45h1v1h-1zM8 59h1v1h-1z"/>
<path fill="#828197" d="M6 45h1v1h-1zM9 57h1v1h-1z"/>
<path fill="#86859a" d="M7 45h1v1h-1zM7 47h1v1h-1z"/>
<path fill="#8f8ca0" d="M8 45h1v1h-1zM8 54h1v1h-1z"/>
<path fill="#9895a5" d="M9 45h1v1h-1z"/>
<path fill="#b2acb6" d="M10 45h1v1h-1zM10 46h1v1h-1zM10 47h1v1h-1zM15 51h1v1h-1z"/>
<path fill="#c2bac0" d="M11 45h1v1h-1zM11 48h1v1h-1zM11 52h1v1h-1zM13 52h1v1h-1zM11 53h1v1h-1z"/>
<path fill="#c9c0c4" d="M12 45h1v1h-1zM12 50h1v1h-1z"/>
<path fill="#cbc2c5" d="M13 45h1v1h-1z"/>
<path fill="#a29dab" d="M14 45h1v1h-1z"/>
<path fill="#747695" d="M15 45h1v1h-1z"/>
<path fill="#41598d" d="M16 45h1v1h-1z"/>
<path fill="#6a6e89" d="M0 46h1v1h-1zM6 51h1v1h-1z"/>
<path fill="#6d708b" d="M1 46h1v1h-1z"/>
<path fill="#74758f" d="M2 46h1v1h-1zM2 48h1v1h-1zM7 59h1v1h-1z"/>
<path fill="#7b7b93" d="M3 46h1v1h-1zM3 47h1v1h-1zM4 48h1v1h-1z"/>
<path fill="#7e7e95" d="M4 46h1v1h-1zM4 47h1v1h-1z"/>
<path fill="#808096" d="M5 46h1v1h-1zM6 48h1v1h-1zM7 52h1v1h-1z"/>
<path fill="#818197" d="M6 46h1v1h-1zM6 47h1v1h-1zM7 51h1v1h-1z"/>
<path fill="#858499" d="M7 46h1v1h-1z"/>
<path fill="#8e8ca0" d="M8 46h1v1h-1zM16 47h1v1h-1z"/>
<path fill="#9b98a7" d="M9 46h1v1h-1z"/>
<path fill="#c5bcc2" d="M11 46h1v1h-1zM11 47h1v1h-1zM15 50h1v1h-1z"/>
<path fill="#e3dad5" d="M12 46h1v1h-1z"/>
<path fill="#e7ded8" d="M13 46h1v1h-1z"/>
<path fill="#ded4d1" d="M14 46h1v1h-1z"/>
<path fill="#b3adb7" d="M15 46h1v1h-1z"/>
<path fill="#808099" d="M16 46h1v1h-1zM16 52h1v1h-1zM15 53h1v1h-1z"/>
<path fill="#6e708b" d="M0 47h1v1h-1zM2 50h1v1h-1z"/>
<path fill="#71738d" d="M1 47h1v1h-1zM1 50h1v1h-1zM6 54h1v1h-1z"/>
<path fill="#757690" d="M2 47h1v1h-1zM5 49h1v1h-1zM7 55h1v1h-1z"/>
<path fill="#7f7f96" d="M5 47h1v1h-1zM7 53h1v1h-1z"/>
<path fill="#908da0" d="M8 47h1v1h-1z"/>
<path fill="#9e9aa8" d="M9 47h1v1h-1z"/>
<path fill="#e9e1d9" d="M12 47h1v1h-1zM12 48h1v1h-1z"/>
<path fill="#f2eae2" d="M13 47h1v1h-1z"/>
<path fill="#f3ebe3" d="M14 47h1v1h-1z"/>
<path fill="#e1d7d3" d="M15 47h1v1h-1z"/>
<path fill="#73748e" d="M1 48h1v1h-1zM1 49h1v1h-1zM0 50h1v1h-1z"/>
<path fill="#7d7d94" d="M5 48h1v1h-1zM7 54h1v1h-1z"/>
<path fill="#88879c" d="M7 48h1v1h-1zM7 49h1v1h-1zM9 59h1v1h-1z"/>
<path fill="#918ea1" d="M8 48h1v1h-1zM8 49h1v1h-1z"/>
<path fill="#9d99a7" d="M9 48h1v1h-1zM16 49h1v1h-1zM16 50h1v1h-1z"/>
<path fill="#ada8b3" d="M10 48h1v1h-1zM9 53h1v1h-1z"/>
<path fill="#f6eee6" d="M13 48h2v1h-2z"/>
<path fill="#ede5dd" d="M15 48h1v1h-1z"/>
<path fill="#9a96a6" d="M16 48h1v1h-1z"/>
<path fill="#67708a" d="M17 48h1v1h-1z"/>
<path fill="#73758f" d="M0 49h1v1h-1zM6 50h1v1h-1z"/>
<path fill="#73748f" d="M4 49h1v1h-1z"/>
<path fill="#7a7a92" d="M6 49h1v1h-1z"/>
<path fill="#9c98a7" d="M9 49h1v1h-1zM9 50h1v1h-1zM13 55h1v1h-1z"/>
<path fill="#a6a1ae" d="M10 49h1v1h-1z"/>
<path fill="#b5afb8" d="M11 49h1v1h-1z"/>
<path fill="#d7cdcc" d="M12 49h1v1h-1z"/>
<path fill="#f4ece4" d="M13 49h2v1h-2z"/>
<path fill="#ebe3db" d="M15 49h1v1h-1z"/>
<path fill="#707492" d="M17 49h1v1h-1zM17 50h1v1h-1z"/>
<path fill="#696d89" d="M4 50h1v1h-1zM6 52h1v1h-1z"/>
<path fill="#838398" d="M7 50h1v1h-1z"/>
<path fill="#908da1" d="M8 50h1v1h-1z"/>
<path fill="#a7a2ae" d="M10 50h1v1h-1z"/>
<path fill="#b4aeb8" d="M11 50h1v1h-1z"/>
<path fill="#d0c7c9" d="M13 50h1v1h-1z"/>
<path fill="#d0c6c8" d="M14 50h1v1h-1z"/>
<path fill="#70728d" d="M0 51h1v1h-1z"/>
<path fill="#6e718c" d="M1 51h1v1h-1z"/>
<path fill="#6a6d89" d="M2 51h1v1h-1zM1 52h1v1h-1zM6 55h1v1h-1z"/>
<path fill="#656a87" d="M3 51h1v1h-1zM1 54h1v1h-1z"/>
<path fill="#626885" d="M4 51h1v1h-1zM1 55h1v1h-1zM3 58h1v1h-1z"/>
<path fill="#636985" d="M5 51h1v1h-1z"/>
<path fill="#928fa1" d="M8 51h1v1h-1z"/>
<path fill="#a19caa" d="M9 51h1v1h-1z"/>
<path fill="#b0aab4" d="M10 51h1v1h-1z"/>
<path fill="#bbb4bc" d="M11 51h1v1h-1z"/>
<path fill="#c6bdc3" d="M12 51h1v1h-1zM14 51h1v1h-1z"/>
<path fill="#cac1c5" d="M13 51h1v1h-1z"/>
<path fill="#928fa2" d="M16 51h1v1h-1z"/>
<path fill="#68718a" d="M17 51h1v1h-1z"/>
<path fill="#666b87" d="M2 52h1v1h-1zM1 59h2v1h-2z"/>
<path fill="#616784" d="M3 52h1v1h-1zM2 54h1v1h-1z"/>
<path fill="#5e6683" d="M4 52h1v1h-1zM0 57h1v1h-1zM3 57h1v1h-1z"/>
<path fill="#606784" d="M5 52h1v1h-1zM5 58h1v1h-1zM5 59h1v1h-1z"/>
<path fill="#9b97a6" d="M8 52h1v1h-1zM8 53h1v1h-1z"/>
<path fill="#ada7b2" d="M9 52h1v1h-1zM10 55h1v1h-1z"/>
<path fill="#bcb4bc" d="M10 52h1v1h-1z"/>
<path fill="#c4bcc2" d="M12 52h1v1h-1z"/>
<path fill="#b4adb7" d="M14 52h1v1h-1z"/>
<path fill="#a09caa" d="M15 52h1v1h-1z"/>
<path fill="#686c88" d="M0 53h1v1h-1zM6 59h1v1h-1z"/>
<path fill="#676b88" d="M1 53h1v1h-1z"/>
<path fill="#636986" d="M2 53h1v1h-1zM1 58h1v1h-1z"/>
<path fill="#5f6683" d="M3 53h1v1h-1zM2 55h1v1h-1zM1 56h1v1h-1zM1 57h1v1h-1zM4 58h1v1h-1z"/>
<path fill="#5d6583" d="M4 53h1v1h-1zM3 54h1v1h-1z"/>
<path fill="#5f6684" d="M5 53h1v1h-1zM5 54h1v1h-1zM5 55h1v1h-1zM0 56h1v1h-1zM5 56h1v1h-1zM2 57h1v1h-1z"/>
<path fill="#bdb6bd" d="M10 53h1v1h-1z"/>
<path fill="#c0b8bf" d="M12 53h1v1h-1z"/>
<path fill="#b4aeb7" d="M13 53h1v1h-1z"/>
<path fill="#a39eab" d="M14 53h1v1h-1zM9 54h1v1h-1z"/>
<path fill="#656f88" d="M16 53h1v1h-1z"/>
<path fill="#676b87" d="M0 54h1v1h-1zM6 57h1v1h-1z"/>
<path fill="#5d6582" d="M4 54h1v1h-1zM4 56h1v1h-1z"/>
<path fill="#b6afb8" d="M10 54h1v1h-1z"/>
<path fill="#b6b0b9" d="M12 54h1v1h-1z"/>
<path fill="#a4a0ad" d="M13 54h1v1h-1z"/>
<path fill="#83839b" d="M14 54h1v1h-1z"/>
<path fill="#6a718c" d="M15 54h1v1h-1z"/>
<path fill="#2f4b81" d="M17 54h1v1h-1zM17 55h1v1h-1z"/>
<path fill="#646986" d="M0 55h1v1h-1zM2 58h1v1h-1zM3 59h1v1h-1z"/>
<path fill="#5d6482" d="M3 55h2v1h-2zM3 56h1v1h-1z"/>
<path fill="#7f7f99" d="M8 55h1v1h-1z"/>
<path fill="#9a97a6" d="M9 55h1v1h-1z"/>
<path fill="#b5aeb8" d="M11 55h1v1h-1z"/>
<path fill="#aba6b1" d="M12 55h1v1h-1z"/>
<path fill="#85849b" d="M14 55h1v1h-1z"/>
<path fill="#6c738f" d="M15 55h1v1h-1z"/>
<path fill="#5e6583" d="M2 56h1v1h-1zM4 57h1v1h-1z"/>
<path fill="#676c88" d="M6 56h1v1h-1zM6 58h1v1h-1z"/>
<path fill="#71728d" d="M7 56h1v1h-1z"/>
<path fill="#787991" d="M8 56h1v1h-1z"/>
<path fill="#828298" d="M9 56h1v1h-1z"/>
<path fill="#9ba3ac" d="M11 56h1v1h-1zM12 58h1v1h-1z"/>
<path fill="#606684" d="M5 57h1v1h-1zM4 59h1v1h-1z"/>
<path fill="#6f718c" d="M7 57h1v1h-1z"/>
<path fill="#787891" d="M8 57h1v1h-1z"/>
<path fill="#99a1aa" d="M12 57h2v1h-2z"/>
<path fill="#606d8c" d="M17 57h1v1h-1z"/>
<path fill="#616885" d="M0 58h1v1h-1z"/>
<path fill="#71738e" d="M7 58h1v1h-1z"/>
<path fill="#848499" d="M9 58h1v1h-1z"/>
<path fill="#9fa7b0" d="M13 58h1v1h-1z"/>
<path fill="#a9afb7" d="M14 58h1v1h-1z"/>
<path fill="#abb1ba" d="M16 58h1v1h-1z"/>
<path fill="#8d97aa" d="M17 58h1v1h-1z"/>
<path fill="#576995" d="M18 58h1v1h-1z"/>
<path fill="#656a86" d="M0 59h1v1h-1z"/>
<path fill="#9da4ad" d="M12 59h1v1h-1z"/>
<path fill="#b3b9c1" d="M14 59h1v1h-1z"/>
<path fill="#b4bac1" d="M16 59h1v1h-1z"/>
<path fill="#9aa4b5" d="M17 59h1v1h-1z"/>
</svg>
<svg class="dots" viewBox="0 0 567 1215"><circle cx="279.1" cy="10.3" r="1.4"/><circle cx="276.4" cy="30.4" r="1.4"/><circle cx="273.4" cy="34.3" r="1.4"/><circle cx="257.3" cy="51.3" r="1.4"/><circle cx="253.3" cy="56.4" r="1.4"/><circle cx="241.3" cy="71.4" r="1.4"/><circle cx="234.5" cy="91.5" r="1.4"/><circle cx="246.2" cy="111.3" r="1.4"/><circle cx="253.3" cy="117.5" r="1.4"/><circle cx="268.3" cy="132.4" r="1.4"/><circle cx="272.2" cy="152.3" r="1.4"/><circle cx="267.3" cy="172.4" r="1.4"/><circle cx="262.2" cy="192.3" r="1.4"/><circle cx="253.3" cy="208.5" r="1.4"/><circle cx="250.4" cy="213.4" r="1.4"/><circle cx="234.7" cy="233.5" r="1.4"/><circle cx="233.0" cy="234.7" r="1.4"/><circle cx="213.4" cy="246.5" r="1.4"/><circle cx="201.3" cy="253.3" r="1.4"/><circle cx="192.5" cy="259.5" r="1.4"/><circle cx="181.2" cy="273.4" r="1.4"/><circle cx="180.3" cy="294.5" r="1.4"/><circle cx="187.4" cy="314.3" r="1.4"/><circle cx="192.5" cy="322.4" r="1.4"/><circle cx="201.3" cy="334.4" r="1.4"/><circle cx="213.4" cy="343.2" r="1.4"/><circle cx="233.2" cy="353.3" r="1.4"/><circle cx="238.4" cy="354.5" r="1.4"/><circle cx="253.3" cy="362.4" r="1.4"/><circle cx="273.4" cy="373.4" r="1.4"/><circle cx="276.4" cy="375.4" r="1.4"/><circle cx="280.3" cy="395.5" r="1.4"/><circle cx="273.4" cy="409.5" r="1.4"/><circle cx="271.2" cy="415.3" r="1.4"/><circle cx="268.3" cy="435.4" r="1.4"/><circle cx="269.3" cy="456.3" r="1.4"/><circle cx="273.4" cy="467.3" r="1.4"/><circle cx="293.3" cy="476.4" r="1.4"/><circle cx="294.5" cy="476.4" r="1.4"/><circle cx="314.4" cy="480.3" r="1.4"/><circle cx="326.4" cy="476.4" r="1.4"/><circle cx="334.5" cy="474.2" r="1.4"/><circle cx="342.4" cy="476.4" r="1.4"/><circle cx="354.4" cy="486.2" r="1.4"/><circle cx="356.3" cy="496.5" r="1.4"/><circle cx="354.4" cy="515.4" r="1.4"/><circle cx="354.4" cy="516.4" r="1.4"/><circle cx="345.3" cy="537.2" r="1.4"/><circle cx="347.3" cy="557.3" r="1.4"/><circle cx="354.4" cy="566.4" r="1.4"/><circle cx="364.4" cy="577.4" r="1.4"/><circle cx="375.2" cy="591.4" r="1.4"/><circle cx="389.2" cy="597.3" r="1.4"/><circle cx="395.3" cy="607.4" r="1.4"/><circle cx="406.4" cy="618.3" r="1.4"/><circle cx="395.3" cy="620.3" r="1.4"/><circle cx="375.2" cy="628.4" r="1.4"/><circle cx="358.3" cy="638.4" r="1.4"/><circle cx="354.4" cy="639.4" r="1.4"/><circle cx="334.5" cy="656.3" r="1.4"/><circle cx="332.5" cy="658.5" r="1.4"/><circle cx="323.5" cy="678.4" r="1.4"/><circle cx="314.4" cy="693.3" r="1.4"/><circle cx="309.3" cy="699.5" r="1.4"/><circle cx="298.2" cy="719.3" r="1.4"/><circle cx="294.3" cy="728.4" r="1.4"/><circle cx="289.4" cy="739.4" r="1.4"/><circle cx="273.4" cy="758.3" r="1.4"/><circle cx="272.2" cy="759.3" r="1.4"/><circle cx="256.3" cy="780.4" r="1.4"/><circle cx="253.3" cy="787.5" r="1.4"/><circle cx="249.2" cy="800.5" r="1.4"/><circle cx="249.2" cy="820.4" r="1.4"/><circle cx="253.3" cy="832.4" r="1.4"/><circle cx="256.3" cy="840.5" r="1.4"/><circle cx="267.3" cy="861.3" r="1.4"/><circle cx="273.4" cy="866.5" r="1.4"/><circle cx="294.3" cy="879.2" r="1.4"/><circle cx="296.3" cy="881.4" r="1.4"/><circle cx="314.4" cy="889.3" r="1.4"/><circle cx="334.5" cy="900.3" r="1.4"/><circle cx="335.5" cy="901.3" r="1.4"/><circle cx="352.4" cy="921.3" r="1.4"/><circle cx="354.4" cy="926.2" r="1.4"/><circle cx="364.4" cy="942.4" r="1.4"/><circle cx="373.3" cy="962.3" r="1.4"/><circle cx="375.2" cy="966.4" r="1.4"/><circle cx="377.2" cy="982.4" r="1.4"/><circle cx="379.4" cy="1002.5" r="1.4"/><circle cx="381.4" cy="1023.3" r="1.4"/><circle cx="381.4" cy="1043.4" r="1.4"/><circle cx="380.4" cy="1063.3" r="1.4"/><circle cx="376.4" cy="1083.9" r="1.4"/><circle cx="375.2" cy="1086.3" r="1.4"/><circle cx="363.4" cy="1104.5" r="1.4"/><circle cx="358.3" cy="1124.4" r="1.4"/><circle cx="372.3" cy="1144.2" r="1.4"/><circle cx="375.2" cy="1149.4" r="1.4"/><circle cx="382.3" cy="1164.3" r="1.4"/><circle cx="387.2" cy="1185.4" r="1.4"/><circle cx="388.2" cy="1205.5" r="1.4"/></svg>
</div>
<div class="panel" style="left:873px;width:568px">
<svg class="im" viewBox="0 0 28 60" preserveAspectRatio="none" shape-rendering="crispEdges">
<path fill="#7e2e69" d="M0 0h3v1h-3zM8 4h1v1h-1z"/>
<path fill="#7f2e6a" d="M3 0h1v1h-1zM2 1h1v1h-1zM6 6h1v1h-1zM7 8h1v1h-1zM17 48h1v1h-1zM17 51h1v1h-1z"/>
<path fill="#81306b" d="M4 0h1v1h-1zM2 2h1v1h-1zM3 3h1v1h-1zM7 9h1v1h-1zM8 20h1v1h-1z"/>
<path fill="#82306b" d="M5 0h1v1h-1zM4 1h1v1h-1zM3 2h1v1h-1zM6 9h1v1h-1z"/>
<path fill="#82316c" d="M6 0h1v1h-1zM9 2h1v1h-1zM9 22h1v1h-1zM6 33h1v1h-1z"/>
<path fill="#83316c" d="M7 0h1v1h-1zM5 1h1v1h-1zM9 23h1v1h-1zM6 32h1v1h-1z"/>
<path fill="#85336d" d="M8 0h1v1h-1zM8 18h1v1h-1z"/>
<path fill="#87356e" d="M9 0h1v1h-1z"/>
<path fill="#893770" d="M10 0h2v1h-2z"/>
<path fill="#7b2b6a" d="M12 0h1v1h-1z"/>
<path fill="#552599" d="M13 0h15v1h-15zM12 1h16v1h-16zM11 2h17v1h-17zM11 3h17v1h-17zM10 4h18v1h-18zM11 5h17v1h-17zM12 6h16v1h-16zM12 7h16v1h-16zM12 8h16v1h-16zM12 9h16v1h-16zM11 10h17v1h-17zM10 11h18v1h-18zM9 12h19v1h-19zM8 13h20v1h-20zM8 14h20v1h-20zM8 15h20v1h-20zM9 16h19v1h-19zM10 17h18v1h-18zM12 18h16v1h-16zM12 19h16v1h-16zM12 20h16v1h-16zM12 21h16v1h-16zM12 22h16v1h-16zM12 23h16v1h-16zM13 24h15v1h-15zM13 25h15v1h-15zM13 26h15v1h-15zM13 27h15v1h-15zM13 28h15v1h-15zM13 29h15v1h-15zM14 30h10v1h-10zM25 30h3v1h-3zM15 31h9v1h-9zM25 31h3v1h-3zM15 32h13v1h-13zM15 33h13v1h-13zM14 34h14v1h-14zM13 35h15v1h-15zM13 36h15v1h-15zM12 37h16v1h-16zM11 38h17v1h-17zM11 39h17v1h-17zM11 40h17v1h-17zM12 41h16v1h-16zM12 42h16v1h-16zM13 43h15v1h-15zM14 44h14v1h-14zM16 45h12v1h-12zM17 46h11v1h-11zM17 47h11v1h-11zM18 48h10v1h-10zM18 49h10v1h-10zM18 50h10v1h-10zM18 51h10v1h-10zM18 52h10v1h-10zM17 53h11v1h-11zM16 54h12v1h-12zM16 55h12v1h-12zM17 56h11v1h-11zM18 57h10v1h-10zM18 58h10v1h-10zM18 59h10v1h-10z"/>
<path fill="#7f2e69" d="M0 1h2v1h-2zM7 6h1v1h-1zM7 7h1v1h-1z"/>
<path fill="#802f6a" d="M3 1h1v1h-1zM8 3h1v1h-1zM6 5h2v1h-2zM6 7h1v1h-1z"/>
<path fill="#83326c" d="M6 1h1v1h-1zM8 19h1v1h-1z"/>
<path fill="#84326d" d="M7 1h1v1h-1zM8 2h1v1h-1zM6 10h2v1h-2zM6 11h2v1h-2z"/>
<path fill="#84336d" d="M8 1h1v1h-1z"/>
<path fill="#86346e" d="M9 1h1v1h-1zM9 21h1v1h-1zM6 34h1v1h-1z"/>
<path fill="#87356f" d="M10 1h1v1h-1zM9 18h1v1h-1zM6 35h1v1h-1zM6 36h1v1h-1zM16 57h1v1h-1z"/>
<path fill="#883672" d="M11 1h1v1h-1zM12 36h1v1h-1z"/>
<path fill="#812f6a" d="M0 2h2v1h-2zM0 3h2v1h-2zM6 8h1v1h-1z"/>
<path fill="#84316e" d="M4 2h1v1h-1zM4 3h1v1h-1zM4 44h1v1h-1z"/>
<path fill="#85326f" d="M5 2h2v1h-2zM5 3h2v1h-2z"/>
<path fill="#85326e" d="M7 2h1v1h-1zM7 3h1v1h-1z"/>
<path fill="#77286a" d="M10 2h1v1h-1zM11 8h1v1h-1z"/>
<path fill="#812f6b" d="M2 3h1v1h-1z"/>
<path fill="#7d2d69" d="M9 3h1v1h-1zM8 6h1v1h-1zM8 7h1v1h-1zM5 35h1v1h-1zM17 52h1v1h-1z"/>
<path fill="#742769" d="M10 3h1v1h-1zM10 5h1v1h-1zM9 11h1v1h-1z"/>
<path fill="#7e2c6a" d="M0 4h4v1h-4zM4 5h1v1h-1zM4 7h1v1h-1zM4 8h1v1h-1zM3 10h1v1h-1zM3 12h1v1h-1zM6 13h1v1h-1zM0 17h1v1h-1zM1 19h1v1h-1zM0 20h1v1h-1zM8 24h1v1h-1zM6 25h1v1h-1zM4 26h1v1h-1zM3 27h1v1h-1zM0 29h2v1h-2zM0 30h3v1h-3zM0 31h3v1h-3zM0 32h4v1h-4zM5 34h1v1h-1zM4 41h1v1h-1zM3 42h1v1h-1z"/>
<path fill="#7f2d6b" d="M4 4h1v1h-1zM5 5h1v1h-1zM5 6h1v1h-1zM3 11h1v1h-1zM0 18h1v1h-1zM0 19h1v1h-1zM5 26h1v1h-1zM3 28h1v1h-1zM3 29h1v1h-1zM3 30h1v1h-1zM4 31h1v1h-1zM5 33h1v1h-1z"/>
<path fill="#802e6c" d="M5 4h1v1h-1zM5 8h1v1h-1zM4 10h1v1h-1zM4 27h1v1h-1zM2 44h1v1h-1z"/>
<path fill="#82306d" d="M6 4h1v1h-1zM5 11h1v1h-1zM5 27h1v1h-1zM4 43h1v1h-1zM3 44h1v1h-1z"/>
<path fill="#822f6c" d="M7 4h1v1h-1zM4 28h1v1h-1z"/>
<path fill="#792a6a" d="M9 4h1v1h-1zM7 13h1v1h-1z"/>
<path fill="#7a296a" d="M0 5h2v1h-2zM3 7h1v1h-1zM2 9h1v1h-1zM0 10h1v1h-1zM0 11h1v1h-1zM3 13h1v1h-1zM6 15h1v1h-1zM1 23h1v1h-1zM7 23h1v1h-1zM1 24h1v1h-1zM5 24h2v1h-2zM1 25h1v1h-1zM3 25h1v1h-1zM1 26h1v1h-1zM0 34h4v1h-4zM4 39h1v1h-1zM3 40h1v1h-1zM1 42h1v1h-1z"/>
<path fill="#7b2a6a" d="M2 5h1v1h-1zM3 8h1v1h-1zM1 10h1v1h-1zM0 16h1v1h-1zM1 22h1v1h-1zM7 24h1v1h-1zM0 25h1v1h-1zM3 26h1v1h-1zM0 27h1v1h-1zM4 34h1v1h-1zM3 41h1v1h-1zM2 42h1v1h-1zM0 43h1v1h-1z"/>
<path fill="#7c2a6a" d="M3 5h1v1h-1zM3 9h1v1h-1zM1 11h1v1h-1zM0 24h1v1h-1zM4 25h1v1h-1z"/>
<path fill="#7e2d69" d="M8 5h1v1h-1zM8 8h1v1h-1zM8 9h1v1h-1zM8 10h1v1h-1zM7 12h1v1h-1zM8 21h1v1h-1zM2 28h1v1h-1zM2 29h1v1h-1zM16 53h1v1h-1z"/>
<path fill="#792969" d="M9 5h1v1h-1zM0 6h3v1h-3zM2 7h1v1h-1zM10 7h1v1h-1zM2 8h1v1h-1zM0 9h1v1h-1zM10 9h1v1h-1zM9 10h1v1h-1zM1 12h1v1h-1zM4 14h1v1h-1zM5 15h1v1h-1zM7 21h1v1h-1zM6 23h1v1h-1zM2 24h1v1h-1zM4 24h1v1h-1zM2 25h1v1h-1zM0 35h2v1h-2zM1 41h1v1h-1z"/>
<path fill="#7a2a6a" d="M3 6h1v1h-1zM0 26h1v1h-1z"/>
<path fill="#7d2c6a" d="M4 6h1v1h-1zM2 11h1v1h-1zM4 13h1v1h-1zM1 18h1v1h-1zM0 21h1v1h-1zM0 28h2v1h-2zM4 33h1v1h-1zM0 44h1v1h-1z"/>
<path fill="#7a2a69" d="M9 6h1v1h-1zM10 8h1v1h-1zM2 26h1v1h-1z"/>
<path fill="#772869" d="M10 6h1v1h-1zM5 22h1v1h-1zM3 23h1v1h-1zM4 37h1v1h-1z"/>
<path fill="#722669" d="M11 6h1v1h-1z"/>
<path fill="#792869" d="M0 7h2v1h-2zM0 8h2v1h-2zM1 16h1v1h-1zM2 18h1v1h-1zM2 19h1v1h-1zM2 20h1v1h-1zM5 23h1v1h-1zM3 24h1v1h-1zM2 35h2v1h-2zM0 36h3v1h-3zM0 37h3v1h-3zM0 38h3v1h-3zM0 39h4v1h-4zM0 40h3v1h-3zM0 41h1v1h-1z"/>
<path fill="#802e6b" d="M5 7h1v1h-1zM4 12h1v1h-1zM6 26h1v1h-1zM5 32h1v1h-1zM4 42h1v1h-1zM15 54h1v1h-1z"/>
<path fill="#7b2b69" d="M9 7h1v1h-1zM9 9h1v1h-1z"/>
<path fill="#76286a" d="M11 7h1v1h-1zM11 9h1v1h-1zM10 10h1v1h-1zM8 16h1v1h-1zM9 17h1v1h-1z"/>
<path fill="#7c2b69" d="M9 8h1v1h-1z"/>
<path fill="#7a2969" d="M1 9h1v1h-1zM7 22h1v1h-1zM4 35h1v1h-1zM2 41h1v1h-1zM0 42h1v1h-1z"/>
<path fill="#7f2d6a" d="M4 9h1v1h-1z"/>
<path fill="#812e6c" d="M5 9h1v1h-1zM4 11h1v1h-1zM3 43h1v1h-1z"/>
<path fill="#7d2b6a" d="M2 10h1v1h-1zM1 20h1v1h-1zM8 22h1v1h-1zM5 25h1v1h-1zM0 33h4v1h-4zM4 40h1v1h-1z"/>
<path fill="#822f6d" d="M5 10h1v1h-1zM4 29h1v1h-1zM5 31h1v1h-1z"/>
<path fill="#7d2c69" d="M8 11h1v1h-1zM2 27h1v1h-1z"/>
<path fill="#782869" d="M0 12h1v1h-1zM2 13h1v1h-1zM6 16h1v1h-1zM2 17h1v1h-1zM2 21h1v1h-1zM6 22h1v1h-1zM4 23h1v1h-1zM3 36h2v1h-2zM3 37h1v1h-1zM3 38h2v1h-2z"/>
<path fill="#7c2b6a" d="M2 12h1v1h-1zM5 14h2v1h-2zM1 17h1v1h-1zM1 21h1v1h-1zM0 22h1v1h-1zM0 23h1v1h-1zM8 23h1v1h-1zM1 27h1v1h-1zM1 43h1v1h-1z"/>
<path fill="#812f6c" d="M5 12h2v1h-2zM7 25h1v1h-1zM4 30h1v1h-1zM15 55h1v1h-1z"/>
<path fill="#732669" d="M8 12h1v1h-1z"/>
<path fill="#752769" d="M0 13h1v1h-1zM2 14h1v1h-1zM0 15h4v1h-4zM3 16h2v1h-2zM3 17h1v1h-1zM3 18h1v1h-1zM3 19h1v1h-1zM6 19h1v1h-1zM3 20h1v1h-1zM6 20h1v1h-1zM3 21h1v1h-1zM5 21h1v1h-1z"/>
<path fill="#762769" d="M1 13h1v1h-1zM3 14h1v1h-1zM5 16h1v1h-1zM6 18h1v1h-1zM6 21h1v1h-1zM3 22h2v1h-2z"/>
<path fill="#7e2d6a" d="M5 13h1v1h-1zM3 31h1v1h-1zM4 32h1v1h-1zM2 43h1v1h-1zM1 44h1v1h-1z"/>
<path fill="#742669" d="M0 14h2v1h-2zM4 17h1v1h-1zM4 18h2v1h-2zM4 19h2v1h-2zM4 20h2v1h-2z"/>
<path fill="#78296a" d="M7 14h1v1h-1zM7 15h1v1h-1zM5 37h1v1h-1zM5 38h1v1h-1z"/>
<path fill="#772769" d="M4 15h1v1h-1zM2 16h1v1h-1zM6 17h1v1h-1z"/>
<path fill="#782969" d="M7 16h1v1h-1zM7 17h2v1h-2zM7 18h1v1h-1zM7 19h1v1h-1zM7 20h1v1h-1zM2 22h1v1h-1zM2 23h1v1h-1z"/>
<path fill="#752669" d="M5 17h1v1h-1zM4 21h1v1h-1z"/>
<path fill="#88366f" d="M10 18h1v1h-1zM9 24h1v1h-1zM15 56h1v1h-1z"/>
<path fill="#82316e" d="M11 18h1v1h-1zM12 29h1v1h-1zM16 56h1v1h-1z"/>
<path fill="#8b3971" d="M9 19h1v1h-1z"/>
<path fill="#8f3e74" d="M10 19h1v1h-1zM9 26h1v1h-1z"/>
<path fill="#8d3b75" d="M11 19h1v1h-1zM11 22h1v1h-1z"/>
<path fill="#8c3a71" d="M9 20h1v1h-1z"/>
<path fill="#964479" d="M10 20h1v1h-1z"/>
<path fill="#96457d" d="M11 20h1v1h-1z"/>
<path fill="#97457a" d="M10 21h1v1h-1zM10 28h1v1h-1z"/>
<path fill="#97457d" d="M11 21h1v1h-1z"/>
<path fill="#8c3b72" d="M10 22h1v1h-1zM13 32h1v1h-1z"/>
<path fill="#8d3b72" d="M10 23h1v1h-1zM9 25h1v1h-1zM7 33h1v1h-1zM13 33h1v1h-1zM7 34h1v1h-1zM7 35h1v1h-1zM14 56h1v1h-1zM10 57h1v1h-1zM15 57h1v1h-1zM10 58h1v1h-1z"/>
<path fill="#8d3c76" d="M11 23h1v1h-1z"/>
<path fill="#903e74" d="M10 24h1v1h-1z"/>
<path fill="#903e75" d="M11 24h1v1h-1z"/>
<path fill="#7f2f6c" d="M12 24h1v1h-1z"/>
<path fill="#883570" d="M8 25h1v1h-1z"/>
<path fill="#913f75" d="M10 25h1v1h-1zM10 26h2v1h-2zM13 56h1v1h-1zM11 58h1v1h-1z"/>
<path fill="#924076" d="M11 25h1v1h-1zM10 27h1v1h-1zM12 32h1v1h-1zM12 34h1v1h-1zM11 57h1v1h-1zM14 57h1v1h-1z"/>
<path fill="#80306d" d="M12 25h1v1h-1zM13 30h1v1h-1zM14 32h1v1h-1zM5 40h1v1h-1z"/>
<path fill="#883470" d="M7 26h1v1h-1zM8 55h1v1h-1z"/>
<path fill="#8d3a73" d="M8 26h1v1h-1z"/>
<path fill="#81306d" d="M12 26h1v1h-1zM12 27h1v1h-1zM14 33h1v1h-1z"/>
<path fill="#873470" d="M6 27h1v1h-1zM6 31h1v1h-1z"/>
<path fill="#8c3972" d="M7 27h1v1h-1zM6 29h1v1h-1zM6 30h1v1h-1zM6 43h1v1h-1zM7 44h1v1h-1z"/>
<path fill="#913e76" d="M8 27h1v1h-1zM7 43h1v1h-1z"/>
<path fill="#934177" d="M9 27h1v1h-1zM12 33h1v1h-1zM11 35h1v1h-1zM7 36h1v1h-1zM11 56h2v1h-2zM12 58h1v1h-1z"/>
<path fill="#8f3d74" d="M11 27h1v1h-1z"/>
<path fill="#86336f" d="M5 28h1v1h-1zM5 30h1v1h-1zM5 43h1v1h-1z"/>
<path fill="#8b3872" d="M6 28h1v1h-1z"/>
<path fill="#8f3c74" d="M7 28h1v1h-1z"/>
<path fill="#98457c" d="M8 28h1v1h-1zM8 43h1v1h-1z"/>
<path fill="#99477c" d="M9 28h1v1h-1zM10 43h1v1h-1z"/>
<path fill="#8e3c73" d="M11 28h1v1h-1zM11 29h1v1h-1zM12 31h1v1h-1zM7 32h1v1h-1zM11 36h1v1h-1zM10 59h1v1h-1z"/>
<path fill="#81316e" d="M12 28h1v1h-1zM11 41h1v1h-1z"/>
<path fill="#87346f" d="M5 29h1v1h-1z"/>
<path fill="#923f76" d="M7 29h1v1h-1z"/>
<path fill="#9f4c81" d="M8 29h1v1h-1z"/>
<path fill="#a04d82" d="M9 29h1v1h-1zM10 32h1v1h-1z"/>
<path fill="#9c497e" d="M10 29h1v1h-1z"/>
<path fill="#934077" d="M7 30h1v1h-1z"/>
<path fill="#a24f84" d="M8 30h1v1h-1z"/>
<path fill="#a35085" d="M9 30h1v1h-1zM9 31h1v1h-1z"/>
<path fill="#a14e83" d="M10 30h1v1h-1zM9 32h1v1h-1z"/>
<path fill="#9a477d" d="M11 30h1v1h-1z"/>
<path fill="#8c3a72" d="M12 30h1v1h-1z"/>
<path fill="#8a3b82" d="M24 30h1v1h-1zM24 31h1v1h-1z"/>
<path fill="#923f77" d="M7 31h1v1h-1z"/>
<path fill="#a24e83" d="M8 31h1v1h-1z"/>
<path fill="#a24f83" d="M10 31h1v1h-1z"/>
<path fill="#9b487d" d="M11 31h1v1h-1zM11 32h1v1h-1zM8 33h1v1h-1zM10 34h1v1h-1zM9 36h1v1h-1zM15 58h1v1h-1z"/>
<path fill="#82316b" d="M13 31h1v1h-1z"/>
<path fill="#7d2d6b" d="M14 31h1v1h-1zM5 39h1v1h-1z"/>
<path fill="#9d4a7f" d="M8 32h1v1h-1zM9 42h1v1h-1zM14 59h1v1h-1zM16 59h1v1h-1z"/>
<path fill="#9e4b80" d="M9 33h2v1h-2zM8 36h1v1h-1zM15 59h1v1h-1z"/>
<path fill="#9a477c" d="M11 33h1v1h-1zM8 34h1v1h-1zM8 35h1v1h-1zM16 58h1v1h-1z"/>
<path fill="#9b497e" d="M9 34h1v1h-1z"/>
<path fill="#98457b" d="M11 34h1v1h-1z"/>
<path fill="#8c3a75" d="M13 34h1v1h-1z"/>
<path fill="#9a487d" d="M9 35h1v1h-1zM9 43h1v1h-1z"/>
<path fill="#98467b" d="M10 35h1v1h-1zM13 59h1v1h-1z"/>
<path fill="#8d3c75" d="M12 35h1v1h-1z"/>
<path fill="#7c2c69" d="M5 36h1v1h-1z"/>
<path fill="#954378" d="M10 36h1v1h-1zM13 58h1v1h-1z"/>
<path fill="#873674" d="M6 37h1v1h-1zM6 38h1v1h-1z"/>
<path fill="#994885" d="M7 37h1v1h-1zM10 41h1v1h-1zM10 42h1v1h-1z"/>
<path fill="#a8548a" d="M8 37h1v1h-1z"/>
<path fill="#a9558b" d="M9 37h1v1h-1z"/>
<path fill="#924176" d="M10 37h1v1h-1z"/>
<path fill="#883772" d="M11 37h1v1h-1z"/>
<path fill="#994986" d="M7 38h1v1h-1z"/>
<path fill="#b05c90" d="M8 38h1v1h-1z"/>
<path fill="#b05c91" d="M9 38h1v1h-1z"/>
<path fill="#92417a" d="M10 38h1v1h-1z"/>
<path fill="#873675" d="M6 39h1v1h-1z"/>
<path fill="#9a4986" d="M7 39h1v1h-1z"/>
<path fill="#b36194" d="M8 39h2v1h-2z"/>
<path fill="#94427b" d="M10 39h1v1h-1z"/>
<path fill="#8b3a77" d="M6 40h1v1h-1z"/>
<path fill="#9e4d89" d="M7 40h1v1h-1zM7 41h1v1h-1z"/>
<path fill="#b46295" d="M8 40h2v1h-2zM9 41h1v1h-1z"/>
<path fill="#98467e" d="M10 40h1v1h-1z"/>
<path fill="#81306e" d="M5 41h1v1h-1z"/>
<path fill="#8c3b78" d="M6 41h1v1h-1z"/>
<path fill="#b46294" d="M8 41h1v1h-1z"/>
<path fill="#82326f" d="M5 42h1v1h-1z"/>
<path fill="#8d3c78" d="M6 42h1v1h-1z"/>
<path fill="#924282" d="M7 42h1v1h-1z"/>
<path fill="#9f4b81" d="M8 42h1v1h-1z"/>
<path fill="#8f3e77" d="M11 42h1v1h-1z"/>
<path fill="#954379" d="M11 43h1v1h-1z"/>
<path fill="#8e3c76" d="M12 43h1v1h-1z"/>
<path fill="#87336f" d="M5 44h1v1h-1z"/>
<path fill="#893671" d="M6 44h1v1h-1z"/>
<path fill="#913b74" d="M8 44h1v1h-1z"/>
<path fill="#964077" d="M9 44h1v1h-1zM14 53h1v1h-1zM9 54h1v1h-1z"/>
<path fill="#9c447b" d="M10 44h1v1h-1z"/>
<path fill="#a1497e" d="M11 44h1v1h-1zM10 53h1v1h-1zM11 54h1v1h-1z"/>
<path fill="#a34b7f" d="M12 44h1v1h-1z"/>
<path fill="#8e3872" d="M13 44h1v1h-1z"/>
<path fill="#802c69" d="M0 45h1v1h-1zM4 50h1v1h-1zM0 53h1v1h-1z"/>
<path fill="#812d6a" d="M1 45h1v1h-1zM0 46h1v1h-1zM3 50h1v1h-1zM5 50h1v1h-1zM6 51h1v1h-1zM0 52h1v1h-1z"/>
<path fill="#832f6b" d="M2 45h1v1h-1zM1 47h1v1h-1zM0 48h1v1h-1zM2 49h2v1h-2zM1 50h1v1h-1zM0 51h1v1h-1zM6 53h1v1h-1zM6 54h1v1h-1zM7 56h1v1h-1zM7 58h1v1h-1z"/>
<path fill="#86316d" d="M3 45h1v1h-1zM8 56h1v1h-1zM8 57h1v1h-1z"/>
<path fill="#87336e" d="M4 45h1v1h-1zM8 58h1v1h-1z"/>
<path fill="#89346e" d="M5 45h1v1h-1zM5 46h1v1h-1zM5 47h1v1h-1zM7 53h1v1h-1z"/>
<path fill="#8a346f" d="M6 45h1v1h-1zM9 57h1v1h-1z"/>
<path fill="#8b3670" d="M7 45h1v1h-1zM7 47h1v1h-1z"/>
<path fill="#8f3972" d="M8 45h1v1h-1zM8 54h1v1h-1z"/>
<path fill="#923c74" d="M9 45h1v1h-1z"/>
<path fill="#9d457b" d="M10 45h1v1h-1zM10 46h1v1h-1zM15 51h1v1h-1z"/>
<path fill="#a34a7f" d="M11 45h1v1h-1zM11 48h1v1h-1zM11 52h1v1h-1zM13 52h1v1h-1zM11 53h1v1h-1z"/>
<path fill="#a54d81" d="M12 45h1v1h-1z"/>
<path fill="#a64d81" d="M13 45h1v1h-1zM13 51h1v1h-1z"/>
<path fill="#963f76" d="M14 45h1v1h-1zM9 51h1v1h-1z"/>
<path fill="#84306e" d="M15 45h1v1h-1z"/>
<path fill="#822e6a" d="M1 46h1v1h-1zM0 47h1v1h-1zM2 50h1v1h-1zM1 51h1v1h-1z"/>
<path fill="#84306c" d="M2 46h1v1h-1zM2 48h1v1h-1zM7 59h1v1h-1z"/>
<path fill="#87326d" d="M3 46h1v1h-1zM3 47h1v1h-1zM4 48h1v1h-1z"/>
<path fill="#88336e" d="M4 46h1v1h-1zM4 47h1v1h-1zM5 48h1v1h-1zM7 54h1v1h-1zM8 59h1v1h-1z"/>
<path fill="#89346f" d="M6 46h1v1h-1zM6 47h1v1h-1zM6 48h1v1h-1zM7 51h1v1h-1zM7 52h1v1h-1z"/>
<path fill="#8b3570" d="M7 46h1v1h-1zM9 58h1v1h-1z"/>
<path fill="#8f3872" d="M8 46h1v1h-1zM16 47h1v1h-1z"/>
<path fill="#943d75" d="M9 46h1v1h-1zM9 49h1v1h-1zM9 50h1v1h-1zM8 53h1v1h-1zM13 55h1v1h-1z"/>
<path fill="#a44b80" d="M11 46h1v1h-1zM11 47h1v1h-1zM12 52h1v1h-1z"/>
<path fill="#ba384c" d="M12 46h2v1h-2zM12 47h3v1h-3zM12 48h4v1h-4zM12 49h4v1h-4zM12 50h4v1h-4zM14 51h1v1h-1z"/>
<path fill="#ad5585" d="M14 46h1v1h-1z"/>
<path fill="#9d467b" d="M15 46h1v1h-1zM14 52h1v1h-1zM13 53h1v1h-1z"/>
<path fill="#893470" d="M16 46h1v1h-1zM16 52h1v1h-1zM15 53h1v1h-1z"/>
<path fill="#85306c" d="M2 47h1v1h-1zM5 49h1v1h-1zM7 55h1v1h-1z"/>
<path fill="#8f3973" d="M8 47h1v1h-1zM8 50h1v1h-1z"/>
<path fill="#943e75" d="M9 47h1v1h-1zM9 48h1v1h-1zM16 49h1v1h-1zM16 50h1v1h-1z"/>
<path fill="#9c457b" d="M10 47h1v1h-1z"/>
<path fill="#af5686" d="M15 47h1v1h-1z"/>
<path fill="#842f6c" d="M1 48h1v1h-1zM0 49h2v1h-2zM4 49h1v1h-1zM0 50h1v1h-1zM6 50h1v1h-1z"/>
<path fill="#85316c" d="M3 48h1v1h-1z"/>
<path fill="#8c3771" d="M7 48h1v1h-1zM7 49h1v1h-1z"/>
<path fill="#903973" d="M8 48h1v1h-1zM8 49h1v1h-1z"/>
<path fill="#9b437a" d="M10 48h1v1h-1zM9 53h1v1h-1z"/>
<path fill="#933c75" d="M16 48h1v1h-1z"/>
<path fill="#86326d" d="M6 49h1v1h-1z"/>
<path fill="#984178" d="M10 49h1v1h-1zM10 50h1v1h-1z"/>
<path fill="#9e467c" d="M11 49h1v1h-1zM10 54h1v1h-1zM11 55h1v1h-1z"/>
<path fill="#832f6d" d="M17 49h1v1h-1zM17 50h1v1h-1z"/>
<path fill="#8a356f" d="M7 50h1v1h-1zM9 56h1v1h-1z"/>
<path fill="#9d467c" d="M11 50h1v1h-1z"/>
<path fill="#802d69" d="M2 51h1v1h-1zM1 52h1v1h-1zM6 52h1v1h-1zM6 55h1v1h-1z"/>
<path fill="#7e2b68" d="M3 51h1v1h-1zM5 51h1v1h-1zM2 53h1v1h-1zM1 54h1v1h-1zM0 55h1v1h-1zM1 58h2v1h-2zM0 59h1v1h-1zM3 59h1v1h-1z"/>
<path fill="#7d2a68" d="M4 51h1v1h-1zM3 52h1v1h-1zM2 54h1v1h-1zM0 58h1v1h-1z"/>
<path fill="#903a73" d="M8 51h1v1h-1zM16 51h1v1h-1z"/>
<path fill="#9c447a" d="M10 51h1v1h-1z"/>
<path fill="#a0487d" d="M11 51h1v1h-1zM10 52h1v1h-1z"/>
<path fill="#a44c80" d="M12 51h1v1h-1z"/>
<path fill="#7f2c69" d="M2 52h1v1h-1zM1 53h1v1h-1zM0 54h1v1h-1zM6 56h1v1h-1zM6 57h1v1h-1zM6 58h1v1h-1zM1 59h2v1h-2zM6 59h1v1h-1z"/>
<path fill="#7c2a67" d="M4 52h2v1h-2zM3 53h1v1h-1zM5 53h1v1h-1zM5 54h1v1h-1zM2 55h1v1h-1zM5 55h1v1h-1zM0 56h2v1h-2zM5 56h1v1h-1zM0 57h4v1h-4zM5 57h1v1h-1zM4 58h2v1h-2zM4 59h2v1h-2z"/>
<path fill="#933d75" d="M8 52h1v1h-1zM9 55h1v1h-1z"/>
<path fill="#9a437a" d="M9 52h1v1h-1zM10 55h1v1h-1z"/>
<path fill="#953f76" d="M15 52h1v1h-1z"/>
<path fill="#7b2967" d="M4 53h1v1h-1zM3 54h2v1h-2zM3 55h2v1h-2zM2 56h3v1h-3z"/>
<path fill="#a24a7e" d="M12 53h1v1h-1z"/>
<path fill="#9e477c" d="M12 54h1v1h-1z"/>
<path fill="#974077" d="M13 54h1v1h-1z"/>
<path fill="#8a3570" d="M14 54h1v1h-1z"/>
<path fill="#7d2b68" d="M1 55h1v1h-1zM3 58h1v1h-1z"/>
<path fill="#9a4379" d="M12 55h1v1h-1z"/>
<path fill="#8b3671" d="M14 55h1v1h-1z"/>
<path fill="#8f3d73" d="M10 56h1v1h-1z"/>
<path fill="#7c2967" d="M4 57h1v1h-1z"/>
<path fill="#822e6b" d="M7 57h1v1h-1z"/>
<path fill="#934176" d="M12 57h2v1h-2z"/>
<path fill="#7c2c6a" d="M17 57h1v1h-1z"/>
<path fill="#99467b" d="M14 58h1v1h-1z"/>
<path fill="#8e3d76" d="M17 58h1v1h-1z"/>
<path fill="#8c3671" d="M9 59h1v1h-1z"/>
<path fill="#914075" d="M11 59h1v1h-1z"/>
<path fill="#944278" d="M12 59h1v1h-1z"/>
<path fill="#93427b" d="M17 59h1v1h-1z"/>
</svg>
<svg class="dots" viewBox="0 0 567 1215"><circle cx="279.1" cy="10.3" r="1.4"/><circle cx="276.4" cy="30.4" r="1.4"/><circle cx="273.4" cy="34.3" r="1.4"/><circle cx="257.3" cy="51.3" r="1.4"/><circle cx="253.3" cy="56.4" r="1.4"/><circle cx="241.3" cy="71.4" r="1.4"/><circle cx="234.5" cy="91.5" r="1.4"/><circle cx="246.2" cy="111.3" r="1.4"/><circle cx="253.3" cy="117.5" r="1.4"/><circle cx="268.3" cy="132.4" r="1.4"/><circle cx="272.2" cy="152.3" r="1.4"/><circle cx="267.3" cy="172.4" r="1.4"/><circle cx="262.2" cy="192.3" r="1.4"/><circle cx="253.3" cy="208.5" r="1.4"/><circle cx="250.4" cy="213.4" r="1.4"/><circle cx="234.7" cy="233.5" r="1.4"/><circle cx="233.0" cy="234.7" r="1.4"/><circle cx="213.4" cy="246.5" r="1.4"/><circle cx="201.3" cy="253.3" r="1.4"/><circle cx="192.5" cy="259.5" r="1.4"/><circle cx="181.2" cy="273.4" r="1.4"/><circle cx="180.3" cy="294.5" r="1.4"/><circle cx="187.4" cy="314.3" r="1.4"/><circle cx="192.5" cy="322.4" r="1.4"/><circle cx="201.3" cy="334.4" r="1.4"/><circle cx="213.4" cy="343.2" r="1.4"/><circle cx="233.2" cy="353.3" r="1.4"/><circle cx="238.4" cy="354.5" r="1.4"/><circle cx="253.3" cy="362.4" r="1.4"/><circle cx="273.4" cy="373.4" r="1.4"/><circle cx="276.4" cy="375.4" r="1.4"/><circle cx="280.3" cy="395.5" r="1.4"/><circle cx="273.4" cy="409.5" r="1.4"/><circle cx="271.2" cy="415.3" r="1.4"/><circle cx="268.3" cy="435.4" r="1.4"/><circle cx="269.3" cy="456.3" r="1.4"/><circle cx="273.4" cy="467.3" r="1.4"/><circle cx="293.3" cy="476.4" r="1.4"/><circle cx="294.5" cy="476.4" r="1.4"/><circle cx="314.4" cy="480.3" r="1.4"/><circle cx="326.4" cy="476.4" r="1.4"/><circle cx="334.5" cy="474.2" r="1.4"/><circle cx="342.4" cy="476.4" r="1.4"/><circle cx="354.4" cy="486.2" r="1.4"/><circle cx="356.3" cy="496.5" r="1.4"/><circle cx="354.4" cy="515.4" r="1.4"/><circle cx="354.4" cy="516.4" r="1.4"/><circle cx="345.3" cy="537.2" r="1.4"/><circle cx="347.3" cy="557.3" r="1.4"/><circle cx="354.4" cy="566.4" r="1.4"/><circle cx="364.4" cy="577.4" r="1.4"/><circle cx="375.2" cy="591.4" r="1.4"/><circle cx="389.2" cy="597.3" r="1.4"/><circle cx="395.3" cy="607.4" r="1.4"/><circle cx="406.4" cy="618.3" r="1.4"/><circle cx="395.3" cy="620.3" r="1.4"/><circle cx="375.2" cy="628.4" r="1.4"/><circle cx="358.3" cy="638.4" r="1.4"/><circle cx="354.4" cy="639.4" r="1.4"/><circle cx="334.5" cy="656.3" r="1.4"/><circle cx="332.5" cy="658.5" r="1.4"/><circle cx="323.5" cy="678.4" r="1.4"/><circle cx="314.4" cy="693.3" r="1.4"/><circle cx="309.3" cy="699.5" r="1.4"/><circle cx="298.2" cy="719.3" r="1.4"/><circle cx="294.3" cy="728.4" r="1.4"/><circle cx="289.4" cy="739.4" r="1.4"/><circle cx="273.4" cy="758.3" r="1.4"/><circle cx="272.2" cy="759.3" r="1.4"/><circle cx="256.3" cy="780.4" r="1.4"/><circle cx="253.3" cy="787.5" r="1.4"/><circle cx="249.2" cy="800.5" r="1.4"/><circle cx="249.2" cy="820.4" r="1.4"/><circle cx="253.3" cy="832.4" r="1.4"/><circle cx="256.3" cy="840.5" r="1.4"/><circle cx="267.3" cy="861.3" r="1.4"/><circle cx="273.4" cy="866.5" r="1.4"/><circle cx="294.3" cy="879.2" r="1.4"/><circle cx="296.3" cy="881.4" r="1.4"/><circle cx="314.4" cy="889.3" r="1.4"/><circle cx="334.5" cy="900.3" r="1.4"/><circle cx="335.5" cy="901.3" r="1.4"/><circle cx="352.4" cy="921.3" r="1.4"/><circle cx="354.4" cy="926.2" r="1.4"/><circle cx="364.4" cy="942.4" r="1.4"/><circle cx="373.3" cy="962.3" r="1.4"/><circle cx="375.2" cy="966.4" r="1.4"/><circle cx="377.2" cy="982.4" r="1.4"/><circle cx="379.4" cy="1002.5" r="1.4"/><circle cx="381.4" cy="1023.3" r="1.4"/><circle cx="381.4" cy="1043.4" r="1.4"/><circle cx="380.4" cy="1063.3" r="1.4"/><circle cx="376.4" cy="1083.9" r="1.4"/><circle cx="375.2" cy="1086.3" r="1.4"/><circle cx="363.4" cy="1104.5" r="1.4"/><circle cx="358.3" cy="1124.4" r="1.4"/><circle cx="372.3" cy="1144.2" r="1.4"/><circle cx="375.2" cy="1149.4" r="1.4"/><circle cx="382.3" cy="1164.3" r="1.4"/><circle cx="387.2" cy="1185.4" r="1.4"/><circle cx="388.2" cy="1205.5" r="1.4"/></svg>
</div>
<div class="legend">
<div class="it" style="top:2px"><div class="sw" style="background:#fd8d3c"></div><div class="tx">sand</div></div>
<div class="it" style="top:32px"><div class="sw" style="background:#ccffff"></div><div class="tx">whitewater</div></div>
<div class="it" style="top:63px"><div class="sw" style="background:#005bff"></div><div class="tx">water</div></div>
<div class="it" style="top:93px"><div class="ln"></div><div class="tx">shoreline</div></div>
<div class="it" style="top:123px"><div class="sw" style="background:#a02e34;box-shadow:inset 0 0 0 1.5px #851b24"></div><div class="tx">reference shoreline buffer</div></div>
</div>
<div class="panel" style="left:1730px">
<svg class="im" viewBox="0 0 28 60" preserveAspectRatio="none" shape-rendering="crispEdges">
<path fill="#b81549" d="M0 0h1v1h-1zM0 1h1v1h-1zM0 2h1v1h-1zM9 9h1v1h-1zM10 44h1v1h-1zM11 54h1v1h-1z"/>
<path fill="#b81246" d="M1 0h1v1h-1zM1 1h1v1h-1zM0 3h1v1h-1zM8 9h1v1h-1zM6 11h1v1h-1zM7 17h1v1h-1zM7 24h1v1h-1zM6 26h1v1h-1zM5 38h1v1h-1zM5 39h1v1h-1zM6 42h1v1h-1zM10 45h1v1h-1zM11 48h1v1h-1zM13 50h2v1h-2zM12 53h2v1h-2zM10 55h1v1h-1zM10 56h1v1h-1zM10 57h1v1h-1zM10 58h1v1h-1zM10 59h1v1h-1z"/>
<path fill="#b80f43" d="M2 0h1v1h-1zM2 1h1v1h-1zM7 7h1v1h-1zM7 8h1v1h-1zM6 9h1v1h-1zM5 12h1v1h-1zM5 14h1v1h-1zM6 16h1v1h-1zM8 22h1v1h-1zM7 23h1v1h-1zM5 34h1v1h-1zM5 35h1v1h-1zM7 43h1v1h-1zM9 45h1v1h-1zM9 46h1v1h-1zM11 50h1v1h-1zM12 51h3v1h-3zM12 52h2v1h-2zM9 55h1v1h-1zM9 56h1v1h-1zM9 57h1v1h-1zM9 58h1v1h-1zM9 59h1v1h-1z"/>
<path fill="#b80e42" d="M3 0h2v1h-2zM3 1h2v1h-2zM2 2h3v1h-3zM7 3h1v1h-1zM4 7h3v1h-3zM4 8h3v1h-3zM0 14h2v1h-2zM0 15h1v1h-1zM7 18h1v1h-1zM6 25h1v1h-1zM5 28h1v1h-1zM5 29h1v1h-1zM5 30h1v1h-1zM5 31h1v1h-1zM5 32h1v1h-1zM5 33h1v1h-1zM8 44h1v1h-1zM8 45h1v1h-1zM8 46h1v1h-1zM8 47h2v1h-2zM10 48h1v1h-1zM11 51h1v1h-1zM11 52h1v1h-1zM10 53h1v1h-1zM9 54h1v1h-1zM8 57h1v1h-1zM8 58h1v1h-1zM7 59h2v1h-2z"/>
<path fill="#b80b3f" d="M5 0h1v1h-1zM2 3h5v1h-5zM3 6h4v1h-4zM2 7h1v1h-1zM2 8h1v1h-1zM3 9h1v1h-1zM0 13h4v1h-4zM3 14h2v1h-2zM0 16h2v1h-2zM6 18h1v1h-1zM7 19h1v1h-1zM7 22h1v1h-1zM6 23h1v1h-1zM5 26h1v1h-1zM4 37h1v1h-1zM4 38h1v1h-1zM4 39h1v1h-1zM4 40h1v1h-1zM7 44h1v1h-1zM6 46h1v1h-1zM6 47h1v1h-1zM7 48h2v1h-2zM10 50h1v1h-1zM10 51h1v1h-1zM8 54h1v1h-1z"/>
<path fill="#b8063a" d="M6 0h1v1h-1zM0 4h6v1h-6zM3 5h3v1h-3zM3 10h1v1h-1zM4 11h1v1h-1zM3 12h1v1h-1zM4 15h1v1h-1zM5 16h1v1h-1zM5 17h1v1h-1zM7 20h1v1h-1zM7 21h1v1h-1zM5 24h1v1h-1zM4 27h1v1h-1zM4 28h1v1h-1zM4 29h1v1h-1zM4 30h1v1h-1zM4 31h1v1h-1zM4 32h1v1h-1zM4 33h1v1h-1zM4 34h1v1h-1zM5 44h1v1h-1zM8 49h1v1h-1zM9 50h1v1h-1zM9 51h1v1h-1zM7 54h1v1h-1z"/>
<path fill="#b80539" d="M7 0h1v1h-1zM2 5h1v1h-1zM1 7h1v1h-1zM1 8h1v1h-1zM0 12h3v1h-3zM3 16h1v1h-1zM0 17h2v1h-2zM5 18h1v1h-1zM6 20h1v1h-1zM6 21h1v1h-1zM5 23h1v1h-1zM4 26h1v1h-1zM3 36h1v1h-1zM3 37h1v1h-1zM3 38h1v1h-1zM3 39h1v1h-1zM3 40h1v1h-1zM3 41h1v1h-1zM4 43h1v1h-1zM5 45h1v1h-1zM5 46h1v1h-1zM5 47h1v1h-1zM7 49h1v1h-1zM8 52h1v1h-1zM6 56h1v1h-1zM5 57h1v1h-1zM4 59h1v1h-1z"/>
<path fill="#b8083c" d="M8 0h1v1h-1zM6 1h2v1h-2zM2 6h1v1h-1zM2 9h1v1h-1zM4 10h1v1h-1zM4 12h1v1h-1zM3 15h1v1h-1zM2 16h1v1h-1zM6 19h1v1h-1zM6 22h1v1h-1zM6 44h1v1h-1zM6 48h1v1h-1zM9 49h1v1h-1zM9 52h1v1h-1zM8 53h1v1h-1zM6 57h1v1h-1zM5 58h1v1h-1z"/>
<path fill="#b81044" d="M9 0h1v1h-1zM8 8h1v1h-1zM7 9h1v1h-1zM6 10h1v1h-1zM8 18h1v1h-1zM9 20h1v1h-1zM5 41h1v1h-1zM10 47h1v1h-1zM11 49h1v1h-1zM14 52h1v1h-1z"/>
<path fill="#b81b4f" d="M10 0h1v1h-1zM9 6h1v1h-1zM6 14h1v1h-1zM10 19h1v1h-1zM10 20h1v1h-1zM8 24h1v1h-1zM6 28h1v1h-1zM6 29h1v1h-1zM6 30h1v1h-1zM6 31h1v1h-1zM6 32h1v1h-1zM6 33h1v1h-1zM6 34h1v1h-1zM6 35h1v1h-1zM6 36h1v1h-1zM6 37h1v1h-1zM6 38h1v1h-1zM6 39h1v1h-1zM6 40h1v1h-1zM11 44h1v1h-1zM14 49h1v1h-1zM16 52h1v1h-1zM12 58h1v1h-1zM13 59h1v1h-1z"/>
<path fill="#b8275b" d="M11 0h1v1h-1zM11 8h1v1h-1zM10 10h1v1h-1zM11 19h1v1h-1zM11 20h1v1h-1zM9 24h1v1h-1zM8 25h1v1h-1zM7 27h1v1h-1zM7 28h1v1h-1zM7 29h1v1h-1zM7 30h1v1h-1zM13 45h1v1h-1zM13 46h1v1h-1zM14 47h2v1h-2zM14 55h1v1h-1zM14 56h1v1h-1z"/>
<path fill="#b83367" d="M12 0h1v1h-1zM10 31h1v1h-1zM11 33h1v1h-1zM10 35h1v1h-1z"/>
<path fill="#b85d91" d="M13 0h1v1h-1zM13 19h1v1h-1zM16 24h1v1h-1zM12 39h1v1h-1zM12 40h1v1h-1z"/>
<path fill="#9d4a99" d="M14 0h1v1h-1zM20 23h1v1h-1zM13 38h1v1h-1z"/>
<path fill="#550299" d="M15 0h1v1h-1zM26 0h2v1h-2zM26 1h2v1h-2zM23 2h4v1h-4zM23 3h2v1h-2zM27 18h1v1h-1zM26 19h2v1h-2zM25 20h3v1h-3zM24 21h4v1h-4zM23 22h5v1h-5zM23 23h5v1h-5zM23 24h3v1h-3zM22 36h2v1h-2zM21 37h3v1h-3zM21 38h7v1h-7zM22 39h6v1h-6z"/>
<path fill="#782599" d="M16 0h1v1h-1zM17 1h1v1h-1zM15 4h1v1h-1zM15 10h1v1h-1zM14 13h1v1h-1zM14 14h1v1h-1zM14 15h1v1h-1zM18 40h1v1h-1zM21 44h1v1h-1z"/>
<path fill="#792699" d="M17 0h1v1h-1zM14 3h1v1h-1zM14 16h1v1h-1zM21 25h1v1h-1zM21 34h1v1h-1zM18 35h1v1h-1zM18 42h1v1h-1zM20 43h1v1h-1zM20 46h1v1h-1z"/>
<path fill="#752299" d="M18 0h1v1h-1zM18 1h1v1h-1zM18 2h1v1h-1zM15 3h1v1h-1zM17 3h1v1h-1zM16 6h1v1h-1zM16 9h1v1h-1zM16 10h1v1h-1zM16 11h1v1h-1zM15 12h2v1h-2zM15 13h2v1h-2zM15 14h1v1h-1zM19 39h1v1h-1zM21 43h1v1h-1zM26 45h2v1h-2zM25 46h3v1h-3zM26 47h2v1h-2zM23 58h2v1h-2z"/>
<path fill="#6d1a99" d="M19 0h1v1h-1zM17 5h1v1h-1zM24 12h1v1h-1zM24 13h1v1h-1zM17 15h1v1h-1zM16 16h1v1h-1zM16 17h1v1h-1zM23 43h1v1h-1zM24 49h1v1h-1zM26 56h1v1h-1z"/>
<path fill="#691699" d="M20 0h1v1h-1zM18 5h4v1h-4zM22 15h1v1h-1zM18 16h2v1h-2zM17 19h1v1h-1zM23 42h5v1h-5zM26 50h1v1h-1zM27 51h1v1h-1zM27 52h1v1h-1zM27 53h1v1h-1zM27 54h1v1h-1zM27 57h1v1h-1zM26 58h1v1h-1z"/>
<path fill="#651299" d="M21 0h1v1h-1zM21 1h1v1h-1zM23 6h1v1h-1zM19 9h3v1h-3zM18 18h1v1h-1zM23 19h1v1h-1zM23 25h1v1h-1zM20 37h1v1h-1zM20 38h1v1h-1zM23 41h5v1h-5zM26 59h1v1h-1z"/>
<path fill="#5f0c99" d="M22 0h1v1h-1zM24 4h1v1h-1zM18 7h1v1h-1zM24 7h1v1h-1zM23 9h1v1h-1zM22 10h1v1h-1zM27 11h1v1h-1zM20 36h1v1h-1zM20 39h1v1h-1z"/>
<path fill="#5c0999" d="M23 0h1v1h-1zM25 4h1v1h-1zM27 4h1v1h-1zM26 5h2v1h-2zM26 6h2v1h-2zM26 7h2v1h-2zM26 8h2v1h-2zM25 9h3v1h-3zM27 16h1v1h-1zM26 17h1v1h-1zM25 18h1v1h-1zM27 25h1v1h-1zM21 35h1v1h-1zM23 40h5v1h-5z"/>
<path fill="#5b0899" d="M24 0h1v1h-1zM26 4h1v1h-1zM24 25h1v1h-1zM26 25h1v1h-1z"/>
<path fill="#580599" d="M25 0h1v1h-1zM22 2h1v1h-1zM22 3h1v1h-1zM26 24h1v1h-1zM23 35h1v1h-1zM25 36h1v1h-1zM25 37h3v1h-3z"/>
<path fill="#b80c40" d="M5 1h1v1h-1zM8 1h1v1h-1zM6 2h1v1h-1zM4 9h1v1h-1zM5 10h1v1h-1zM5 11h1v1h-1zM4 13h1v1h-1zM2 15h1v1h-1zM6 17h1v1h-1zM6 24h1v1h-1zM6 43h1v1h-1zM7 45h1v1h-1zM9 48h1v1h-1zM10 49h1v1h-1zM10 52h1v1h-1zM9 53h1v1h-1zM8 55h1v1h-1zM7 57h1v1h-1zM6 58h1v1h-1z"/>
<path fill="#b81347" d="M9 1h1v1h-1zM8 6h1v1h-1zM7 10h1v1h-1zM9 18h1v1h-1zM8 43h1v1h-1zM15 50h1v1h-1zM15 52h1v1h-1z"/>
<path fill="#b81e52" d="M10 1h1v1h-1zM9 3h1v1h-1zM10 7h1v1h-1zM10 9h1v1h-1zM10 21h1v1h-1zM14 58h1v1h-1z"/>
<path fill="#b8295d" d="M11 1h1v1h-1zM11 9h1v1h-1zM8 34h1v1h-1zM13 44h1v1h-1zM15 54h1v1h-1zM15 56h1v1h-1z"/>
<path fill="#b83a6e" d="M12 1h1v1h-1zM10 29h1v1h-1zM12 31h1v1h-1zM13 32h1v1h-1zM11 37h1v1h-1zM8 38h1v1h-1zM13 43h1v1h-1zM15 44h1v1h-1z"/>
<path fill="#b86397" d="M13 1h1v1h-1zM14 21h1v1h-1zM19 29h1v1h-1zM19 30h1v1h-1zM21 30h1v1h-1zM13 37h1v1h-1zM15 43h1v1h-1z"/>
<path fill="#974499" d="M14 1h1v1h-1zM15 20h1v1h-1zM18 20h1v1h-1zM19 26h1v1h-1z"/>
<path fill="#560399" d="M15 1h1v1h-1zM25 3h1v1h-1zM26 18h1v1h-1zM24 35h4v1h-4zM24 37h1v1h-1z"/>
<path fill="#762399" d="M16 1h1v1h-1zM17 2h1v1h-1zM16 7h1v1h-1zM16 8h1v1h-1zM15 11h1v1h-1zM15 17h1v1h-1zM20 34h1v1h-1zM18 41h1v1h-1zM19 42h1v1h-1zM23 48h1v1h-1zM24 54h1v1h-1zM22 58h1v1h-1z"/>
<path fill="#6e1b99" d="M19 1h1v1h-1zM20 14h1v1h-1zM24 59h1v1h-1z"/>
<path fill="#6a1799" d="M20 1h1v1h-1zM19 11h1v1h-1zM23 14h1v1h-1zM20 15h2v1h-2zM17 16h1v1h-1zM20 41h1v1h-1zM24 52h1v1h-1zM26 53h1v1h-1zM27 55h1v1h-1zM27 56h1v1h-1z"/>
<path fill="#5d0a99" d="M22 1h1v1h-1zM25 5h1v1h-1zM25 6h1v1h-1zM25 7h1v1h-1zM25 8h1v1h-1zM24 9h1v1h-1zM24 10h4v1h-4zM27 14h1v1h-1zM27 15h1v1h-1zM24 19h1v1h-1zM22 22h1v1h-1zM22 40h1v1h-1z"/>
<path fill="#5a0799" d="M23 1h1v1h-1zM27 3h1v1h-1zM27 17h1v1h-1zM23 21h1v1h-1zM22 23h1v1h-1zM25 25h1v1h-1z"/>
<path fill="#590699" d="M24 1h1v1h-1zM26 3h1v1h-1zM22 24h1v1h-1zM27 24h1v1h-1zM22 35h1v1h-1zM26 36h2v1h-2z"/>
<path fill="#570499" d="M25 1h1v1h-1zM27 2h1v1h-1zM25 19h1v1h-1zM24 20h1v1h-1zM21 36h1v1h-1zM24 36h1v1h-1zM21 39h1v1h-1z"/>
<path fill="#b81145" d="M1 2h1v1h-1zM8 2h1v1h-1zM8 7h1v1h-1zM5 13h1v1h-1zM9 19h1v1h-1zM9 21h1v1h-1zM5 36h1v1h-1zM5 37h1v1h-1zM5 40h1v1h-1zM9 44h1v1h-1zM10 46h1v1h-1zM12 50h1v1h-1zM15 51h1v1h-1zM11 53h1v1h-1zM10 54h1v1h-1z"/>
<path fill="#b80d41" d="M5 2h1v1h-1zM7 2h1v1h-1zM1 3h1v1h-1zM7 6h1v1h-1zM3 7h1v1h-1zM3 8h1v1h-1zM5 9h1v1h-1zM2 14h1v1h-1zM1 15h1v1h-1zM8 19h1v1h-1zM5 27h1v1h-1zM5 42h1v1h-1zM7 46h1v1h-1zM7 47h1v1h-1zM8 56h1v1h-1zM7 58h1v1h-1zM6 59h1v1h-1z"/>
<path fill="#b8194d" d="M9 2h1v1h-1zM7 25h1v1h-1zM6 27h1v1h-1zM7 42h1v1h-1zM9 43h1v1h-1zM11 46h1v1h-1z"/>
<path fill="#b82559" d="M10 2h1v1h-1zM10 22h1v1h-1zM7 36h1v1h-1zM12 43h1v1h-1zM17 49h1v1h-1zM17 51h1v1h-1zM15 57h1v1h-1z"/>
<path fill="#b82f63" d="M11 2h1v1h-1zM10 3h1v1h-1zM9 17h1v1h-1zM9 34h1v1h-1z"/>
<path fill="#b85b8f" d="M12 2h1v1h-1zM9 16h1v1h-1zM13 21h1v1h-1zM17 26h1v1h-1zM17 27h1v1h-1zM17 28h1v1h-1zM14 35h1v1h-1z"/>
<path fill="#9e4b99" d="M13 2h1v1h-1zM17 21h2v1h-2zM20 22h1v1h-1zM16 37h1v1h-1zM17 44h1v1h-1zM18 45h1v1h-1zM19 56h1v1h-1z"/>
<path fill="#772499" d="M14 2h1v1h-1zM14 11h1v1h-1zM14 12h1v1h-1zM19 34h1v1h-1zM21 45h1v1h-1zM21 47h1v1h-1zM21 58h1v1h-1z"/>
<path fill="#721f99" d="M15 2h1v1h-1zM19 12h1v1h-1zM20 13h1v1h-1zM17 14h2v1h-2zM21 22h1v1h-1zM23 44h5v1h-5zM25 48h1v1h-1z"/>
<path fill="#742199" d="M16 2h1v1h-1zM16 3h1v1h-1zM18 3h1v1h-1zM16 4h1v1h-1zM16 5h1v1h-1zM17 12h1v1h-1zM17 13h2v1h-2zM16 18h1v1h-1zM19 36h1v1h-1zM22 44h1v1h-1zM24 45h2v1h-2zM21 46h1v1h-1zM25 47h1v1h-1zM26 48h2v1h-2zM25 55h1v1h-1z"/>
<path fill="#701d99" d="M19 2h1v1h-1zM17 10h1v1h-1zM23 12h1v1h-1zM23 13h1v1h-1zM19 14h1v1h-1zM19 35h1v1h-1zM22 46h2v1h-2zM23 47h1v1h-1zM26 49h1v1h-1zM25 54h1v1h-1z"/>
<path fill="#6b1899" d="M20 2h1v1h-1zM20 4h1v1h-1zM18 10h1v1h-1zM19 15h1v1h-1zM21 20h1v1h-1zM22 42h1v1h-1zM25 53h1v1h-1zM26 54h1v1h-1zM25 59h1v1h-1z"/>
<path fill="#661399" d="M21 2h1v1h-1zM22 4h1v1h-1zM23 5h1v1h-1zM20 7h1v1h-1zM20 8h1v1h-1zM22 8h1v1h-1zM25 12h1v1h-1zM25 13h1v1h-1zM24 16h1v1h-1zM18 17h3v1h-3zM24 17h1v1h-1zM21 18h1v1h-1zM23 18h1v1h-1zM18 19h2v1h-2zM22 41h1v1h-1zM27 58h1v1h-1z"/>
<path fill="#b8164a" d="M8 3h1v1h-1zM16 50h1v1h-1z"/>
<path fill="#b8588c" d="M11 3h1v1h-1zM13 23h1v1h-1zM14 25h1v1h-1zM15 26h1v1h-1zM16 28h1v1h-1zM18 49h1v1h-1z"/>
<path fill="#ab5899" d="M12 3h1v1h-1zM24 28h1v1h-1zM14 37h1v1h-1zM19 57h1v1h-1z"/>
<path fill="#812e99" d="M13 3h1v1h-1zM10 13h1v1h-1zM12 15h1v1h-1zM22 26h1v1h-1zM19 37h1v1h-1zM16 40h1v1h-1zM19 47h1v1h-1zM20 48h1v1h-1z"/>
<path fill="#711e99" d="M19 3h1v1h-1zM18 4h1v1h-1zM20 12h3v1h-3zM21 13h2v1h-2zM21 21h1v1h-1zM21 23h1v1h-1zM22 47h1v1h-1zM27 49h1v1h-1zM25 58h1v1h-1z"/>
<path fill="#6c1999" d="M20 3h1v1h-1zM17 9h1v1h-1zM21 14h2v1h-2zM18 15h1v1h-1zM22 25h1v1h-1zM19 40h1v1h-1zM24 43h4v1h-4zM25 49h1v1h-1zM27 50h1v1h-1zM26 55h1v1h-1zM26 57h1v1h-1z"/>
<path fill="#671499" d="M21 3h1v1h-1zM20 6h1v1h-1zM22 7h1v1h-1zM21 8h1v1h-1zM18 9h1v1h-1zM19 10h1v1h-1zM23 15h1v1h-1zM21 17h1v1h-1zM23 17h1v1h-1zM17 18h1v1h-1zM22 18h1v1h-1zM20 19h3v1h-3zM22 20h1v1h-1zM26 51h1v1h-1zM25 52h1v1h-1z"/>
<path fill="#b8073b" d="M6 4h1v1h-1zM6 5h1v1h-1zM5 25h1v1h-1zM4 35h1v1h-1zM4 42h1v1h-1zM7 55h1v1h-1z"/>
<path fill="#b8093d" d="M7 4h1v1h-1zM7 5h1v1h-1zM5 15h1v1h-1zM8 20h1v1h-1zM8 21h1v1h-1zM5 43h1v1h-1zM6 45h1v1h-1z"/>
<path fill="#b81a4e" d="M8 4h1v1h-1zM7 11h1v1h-1zM6 13h1v1h-1zM7 16h1v1h-1zM11 45h1v1h-1zM13 49h1v1h-1zM15 49h1v1h-1zM12 59h1v1h-1z"/>
<path fill="#b82458" d="M9 4h1v1h-1zM8 11h1v1h-1zM8 17h1v1h-1zM7 26h1v1h-1zM7 32h1v1h-1zM7 33h1v1h-1zM7 34h1v1h-1zM7 35h1v1h-1zM17 59h1v1h-1z"/>
<path fill="#b8386c" d="M10 4h1v1h-1zM12 35h1v1h-1z"/>
<path fill="#b85589" d="M11 4h1v1h-1z"/>
<path fill="#a14e99" d="M12 4h1v1h-1zM22 27h5v1h-5zM15 37h1v1h-1z"/>
<path fill="#863399" d="M13 4h1v1h-1zM17 34h1v1h-1zM13 39h2v1h-2zM13 40h1v1h-1zM19 48h1v1h-1z"/>
<path fill="#7f2c99" d="M14 4h1v1h-1zM11 13h1v1h-1zM11 14h2v1h-2zM15 18h1v1h-1zM17 40h1v1h-1zM18 43h1v1h-1zM19 46h1v1h-1zM21 49h2v1h-2zM22 50h2v1h-2zM23 51h1v1h-1zM21 53h1v1h-1zM23 55h1v1h-1z"/>
<path fill="#732099" d="M17 4h1v1h-1zM17 11h1v1h-1zM18 12h1v1h-1zM19 13h1v1h-1zM16 14h1v1h-1zM15 15h1v1h-1zM15 16h1v1h-1zM20 42h1v1h-1zM22 45h2v1h-2zM24 46h1v1h-1zM24 47h1v1h-1zM24 48h1v1h-1z"/>
<path fill="#6f1c99" d="M19 4h1v1h-1zM18 11h1v1h-1zM16 15h1v1h-1zM21 24h1v1h-1zM19 41h1v1h-1zM21 42h1v1h-1zM22 43h1v1h-1zM24 53h1v1h-1zM21 59h3v1h-3z"/>
<path fill="#681599" d="M21 4h1v1h-1zM22 5h1v1h-1zM21 6h2v1h-2zM21 7h1v1h-1zM20 16h4v1h-4zM17 17h1v1h-1zM22 17h1v1h-1zM21 41h1v1h-1zM26 52h1v1h-1z"/>
<path fill="#631099" d="M23 4h1v1h-1zM19 6h1v1h-1zM17 8h1v1h-1zM22 9h1v1h-1zM20 10h1v1h-1zM26 12h1v1h-1zM24 15h1v1h-1zM20 35h1v1h-1zM20 40h1v1h-1zM24 50h1v1h-1z"/>
<path fill="#b80337" d="M0 5h1v1h-1zM0 6h1v1h-1zM0 7h1v1h-1zM0 8h1v1h-1zM0 9h1v1h-1zM1 10h1v1h-1zM0 11h3v1h-3zM3 17h2v1h-2zM0 18h2v1h-2zM4 18h1v1h-1zM5 20h1v1h-1zM5 21h1v1h-1zM4 23h1v1h-1zM4 24h1v1h-1zM4 25h1v1h-1zM3 27h1v1h-1zM3 28h1v1h-1zM3 29h1v1h-1zM3 30h1v1h-1zM3 31h1v1h-1zM3 32h1v1h-1zM3 33h1v1h-1zM3 34h1v1h-1zM3 35h1v1h-1zM2 37h1v1h-1zM2 38h1v1h-1zM2 39h1v1h-1zM2 40h1v1h-1zM3 42h1v1h-1zM3 43h1v1h-1zM4 44h1v1h-1zM4 45h1v1h-1zM4 46h1v1h-1zM4 47h1v1h-1zM5 49h1v1h-1zM7 50h2v1h-2zM8 51h1v1h-1zM7 52h1v1h-1zM6 54h1v1h-1zM6 55h1v1h-1zM5 56h1v1h-1zM4 57h1v1h-1zM3 59h1v1h-1z"/>
<path fill="#b80438" d="M1 5h1v1h-1zM1 6h1v1h-1zM1 9h1v1h-1zM2 10h1v1h-1zM3 11h1v1h-1zM4 16h1v1h-1zM2 17h1v1h-1zM5 19h1v1h-1zM5 22h1v1h-1zM5 48h1v1h-1zM6 49h1v1h-1zM7 53h1v1h-1zM4 58h1v1h-1z"/>
<path fill="#b8184c" d="M8 5h1v1h-1zM8 10h1v1h-1zM6 12h1v1h-1zM6 15h1v1h-1zM9 22h1v1h-1zM6 41h1v1h-1zM12 54h1v1h-1zM11 56h1v1h-1zM11 57h1v1h-1z"/>
<path fill="#b82256" d="M9 5h1v1h-1zM7 14h1v1h-1zM12 45h1v1h-1zM15 48h1v1h-1zM13 55h1v1h-1z"/>
<path fill="#b83064" d="M10 5h1v1h-1zM12 7h1v1h-1zM11 10h1v1h-1zM12 18h1v1h-1zM12 19h1v1h-1zM9 25h1v1h-1zM8 27h1v1h-1zM8 28h1v1h-1zM8 29h1v1h-1zM8 30h1v1h-1zM9 35h1v1h-1zM14 44h1v1h-1zM16 46h1v1h-1zM17 53h1v1h-1zM16 54h1v1h-1zM17 57h1v1h-1z"/>
<path fill="#b83c70" d="M11 5h1v1h-1zM8 12h1v1h-1zM10 28h1v1h-1z"/>
<path fill="#b8568a" d="M12 5h1v1h-1zM12 10h1v1h-1zM11 11h1v1h-1zM9 12h1v1h-1zM13 24h1v1h-1zM14 26h1v1h-1zM15 28h1v1h-1zM16 29h1v1h-1zM12 38h1v1h-1zM18 51h1v1h-1z"/>
<path fill="#994699" d="M13 5h1v1h-1zM14 6h1v1h-1zM12 11h1v1h-1zM17 37h1v1h-1z"/>
<path fill="#8f3c99" d="M14 5h1v1h-1zM13 10h1v1h-1zM12 12h1v1h-1zM20 56h1v1h-1z"/>
<path fill="#7a2799" d="M15 5h1v1h-1zM14 10h1v1h-1zM13 11h1v1h-1zM13 12h1v1h-1zM20 51h2v1h-2zM24 55h1v1h-1zM25 56h1v1h-1zM25 57h1v1h-1z"/>
<path fill="#610e99" d="M24 5h1v1h-1zM18 6h1v1h-1zM17 7h1v1h-1zM19 7h1v1h-1zM18 8h1v1h-1zM23 8h1v1h-1zM21 10h1v1h-1zM21 11h1v1h-1zM26 13h1v1h-1z"/>
<path fill="#b82155" d="M10 6h1v1h-1zM7 12h1v1h-1zM7 15h1v1h-1zM12 44h1v1h-1zM13 57h1v1h-1zM16 58h1v1h-1z"/>
<path fill="#b82a5e" d="M11 6h1v1h-1zM11 21h1v1h-1zM10 23h1v1h-1zM8 32h1v1h-1zM8 35h1v1h-1zM14 45h1v1h-1zM15 46h1v1h-1zM16 47h1v1h-1z"/>
<path fill="#b83266" d="M12 6h1v1h-1zM12 20h1v1h-1zM11 22h1v1h-1zM10 24h1v1h-1zM10 34h1v1h-1z"/>
<path fill="#b8598d" d="M13 6h1v1h-1zM13 7h1v1h-1zM15 25h1v1h-1zM16 26h1v1h-1zM16 27h1v1h-1zM17 29h1v1h-1zM17 30h1v1h-1zM13 36h1v1h-1z"/>
<path fill="#7e2b99" d="M15 6h1v1h-1zM16 41h1v1h-1zM15 42h1v1h-1zM21 48h1v1h-1zM22 51h1v1h-1zM22 52h2v1h-2zM23 53h1v1h-1zM23 54h1v1h-1zM24 56h1v1h-1zM22 57h2v1h-2z"/>
<path fill="#641199" d="M17 6h1v1h-1zM23 7h1v1h-1zM20 11h1v1h-1zM24 14h1v1h-1zM19 18h2v1h-2zM25 50h1v1h-1zM25 51h1v1h-1z"/>
<path fill="#600d99" d="M24 6h1v1h-1zM22 11h5v1h-5zM27 13h1v1h-1zM25 14h1v1h-1zM25 15h1v1h-1z"/>
<path fill="#b8174b" d="M9 7h1v1h-1zM12 49h1v1h-1zM11 55h1v1h-1zM11 58h1v1h-1zM11 59h1v1h-1z"/>
<path fill="#b8285c" d="M11 7h1v1h-1zM11 18h1v1h-1zM8 33h1v1h-1zM11 42h1v1h-1zM14 46h1v1h-1zM16 53h1v1h-1zM16 57h1v1h-1zM17 58h1v1h-1z"/>
<path fill="#9b4899" d="M14 7h1v1h-1zM19 21h1v1h-1zM17 36h1v1h-1z"/>
<path fill="#802d99" d="M15 7h1v1h-1zM15 8h1v1h-1zM12 13h1v1h-1zM20 20h1v1h-1zM19 33h2v1h-2zM19 38h1v1h-1zM18 39h1v1h-1zM17 43h1v1h-1zM19 44h1v1h-1zM19 45h1v1h-1zM22 53h1v1h-1zM23 56h1v1h-1z"/>
<path fill="#b81448" d="M9 8h1v1h-1zM8 23h1v1h-1zM11 47h1v1h-1zM16 51h1v1h-1zM14 53h1v1h-1z"/>
<path fill="#b81c50" d="M10 8h1v1h-1zM10 18h1v1h-1zM10 43h1v1h-1zM15 53h1v1h-1zM13 54h1v1h-1zM12 55h1v1h-1zM14 59h2v1h-2z"/>
<path fill="#b83165" d="M12 8h1v1h-1zM9 11h1v1h-1zM9 31h1v1h-1zM10 32h1v1h-1zM10 33h1v1h-1zM9 36h1v1h-1zM8 37h1v1h-1zM8 41h1v1h-1z"/>
<path fill="#b85a8e" d="M13 8h1v1h-1zM11 17h1v1h-1zM13 22h1v1h-1zM14 24h1v1h-1zM16 25h1v1h-1zM14 43h1v1h-1z"/>
<path fill="#9a4799" d="M14 8h1v1h-1z"/>
<path fill="#620f99" d="M19 8h1v1h-1zM27 12h1v1h-1zM25 16h1v1h-1zM25 17h1v1h-1zM24 18h1v1h-1zM23 20h1v1h-1zM22 21h1v1h-1zM24 51h1v1h-1zM27 59h1v1h-1z"/>
<path fill="#5e0b99" d="M24 8h1v1h-1zM23 10h1v1h-1zM26 14h1v1h-1zM26 15h1v1h-1zM26 16h1v1h-1zM21 40h1v1h-1z"/>
<path fill="#b8396d" d="M12 9h1v1h-1zM11 30h1v1h-1zM13 33h1v1h-1zM16 45h1v1h-1zM17 47h1v1h-1zM17 56h1v1h-1z"/>
<path fill="#a75499" d="M13 9h1v1h-1z"/>
<path fill="#903d99" d="M14 9h1v1h-1zM15 19h1v1h-1zM14 42h1v1h-1zM19 51h1v1h-1zM20 54h1v1h-1z"/>
<path fill="#7d2a99" d="M15 9h1v1h-1zM13 13h1v1h-1zM13 14h1v1h-1zM13 15h1v1h-1zM13 16h1v1h-1zM14 17h1v1h-1zM20 50h1v1h-1zM24 57h1v1h-1z"/>
<path fill="#b80236" d="M0 10h1v1h-1zM2 18h2v1h-2zM0 19h5v1h-5zM0 20h5v1h-5zM0 21h5v1h-5zM0 22h5v1h-5zM0 23h4v1h-4zM0 24h4v1h-4zM0 25h4v1h-4zM0 26h4v1h-4zM0 27h3v1h-3zM0 28h3v1h-3zM0 29h3v1h-3zM0 30h3v1h-3zM0 31h3v1h-3zM0 32h3v1h-3zM0 33h3v1h-3zM0 34h3v1h-3zM0 35h3v1h-3zM0 36h3v1h-3zM0 37h2v1h-2zM0 38h2v1h-2zM0 39h2v1h-2zM0 40h2v1h-2zM0 41h3v1h-3zM0 42h3v1h-3zM0 43h3v1h-3zM0 44h4v1h-4zM0 45h4v1h-4zM0 46h4v1h-4zM0 47h4v1h-4zM0 48h5v1h-5zM0 49h5v1h-5zM0 50h7v1h-7zM0 51h8v1h-8zM0 52h7v1h-7zM0 53h7v1h-7zM0 54h6v1h-6zM0 55h6v1h-6zM0 56h5v1h-5zM0 57h4v1h-4zM0 58h4v1h-4zM0 59h3v1h-3z"/>
<path fill="#b81d51" d="M9 10h1v1h-1zM9 23h1v1h-1zM16 49h1v1h-1zM12 56h1v1h-1zM12 57h1v1h-1zM13 58h1v1h-1z"/>
<path fill="#b83e72" d="M10 11h1v1h-1zM11 29h1v1h-1zM12 30h1v1h-1zM13 31h1v1h-1zM9 38h1v1h-1z"/>
<path fill="#b8578b" d="M10 12h1v1h-1zM15 27h1v1h-1zM12 41h1v1h-1z"/>
<path fill="#984599" d="M11 12h1v1h-1zM13 41h1v1h-1z"/>
<path fill="#b82357" d="M7 13h1v1h-1zM7 41h1v1h-1zM8 42h1v1h-1zM12 46h1v1h-1zM12 47h1v1h-1zM13 48h2v1h-2zM16 48h1v1h-1zM17 50h1v1h-1zM14 54h1v1h-1zM13 56h1v1h-1zM14 57h1v1h-1z"/>
<path fill="#b85488" d="M8 13h1v1h-1zM14 27h1v1h-1z"/>
<path fill="#ae5b99" d="M9 13h1v1h-1zM18 27h1v1h-1zM22 28h1v1h-1zM26 31h1v1h-1zM18 55h1v1h-1z"/>
<path fill="#b85084" d="M8 14h1v1h-1zM13 26h1v1h-1zM14 28h1v1h-1z"/>
<path fill="#a35099" d="M9 14h1v1h-1zM15 21h1v1h-1zM18 26h1v1h-1zM19 27h1v1h-1zM16 36h1v1h-1zM20 59h1v1h-1z"/>
<path fill="#822f99" d="M10 14h1v1h-1zM21 26h1v1h-1zM22 34h1v1h-1zM25 34h1v1h-1zM15 41h1v1h-1zM20 49h1v1h-1zM22 54h1v1h-1zM22 56h1v1h-1zM21 57h1v1h-1z"/>
<path fill="#b84e82" d="M8 15h1v1h-1zM13 27h1v1h-1zM16 31h1v1h-1z"/>
<path fill="#b86296" d="M9 15h1v1h-1zM15 23h2v1h-2zM18 28h1v1h-1zM17 31h1v1h-1zM16 32h1v1h-1zM15 34h1v1h-1zM13 42h1v1h-1zM18 48h1v1h-1z"/>
<path fill="#9c4999" d="M10 15h1v1h-1z"/>
<path fill="#833099" d="M11 15h1v1h-1zM12 16h1v1h-1zM20 24h1v1h-1zM23 26h1v1h-1zM21 33h1v1h-1zM24 34h1v1h-1zM26 34h2v1h-2zM15 40h1v1h-1zM22 55h1v1h-1z"/>
<path fill="#b82e62" d="M8 16h1v1h-1zM8 26h1v1h-1zM17 48h1v1h-1z"/>
<path fill="#b86094" d="M10 16h1v1h-1zM22 30h1v1h-1zM24 30h1v1h-1zM22 31h1v1h-1zM24 31h1v1h-1z"/>
<path fill="#8d3a99" d="M11 16h1v1h-1zM18 38h1v1h-1zM19 49h1v1h-1z"/>
<path fill="#b85387" d="M10 17h1v1h-1zM13 25h1v1h-1zM18 50h1v1h-1z"/>
<path fill="#b85f93" d="M12 17h1v1h-1zM14 23h1v1h-1zM17 24h1v1h-1zM18 30h1v1h-1z"/>
<path fill="#853299" d="M13 17h1v1h-1zM16 19h1v1h-1zM25 26h3v1h-3zM15 39h2v1h-2zM14 40h1v1h-1zM21 56h1v1h-1z"/>
<path fill="#b85e92" d="M13 18h1v1h-1zM18 29h1v1h-1zM23 30h1v1h-1zM23 31h1v1h-1zM17 46h1v1h-1zM18 57h1v1h-1z"/>
<path fill="#ac5999" d="M14 18h1v1h-1zM23 28h1v1h-1zM26 29h1v1h-1zM27 32h1v1h-1zM15 36h1v1h-1z"/>
<path fill="#b05d99" d="M14 19h1v1h-1zM17 32h1v1h-1zM26 33h1v1h-1z"/>
<path fill="#b85c90" d="M13 20h1v1h-1zM15 24h1v1h-1zM17 25h1v1h-1zM18 52h1v1h-1z"/>
<path fill="#b86498" d="M14 20h1v1h-1zM17 23h1v1h-1zM24 32h1v1h-1z"/>
<path fill="#954299" d="M16 20h1v1h-1zM17 35h1v1h-1z"/>
<path fill="#964399" d="M17 20h1v1h-1zM19 52h1v1h-1zM19 55h1v1h-1z"/>
<path fill="#934099" d="M19 20h1v1h-1zM20 21h1v1h-1zM19 25h1v1h-1zM15 38h2v1h-2zM19 53h1v1h-1z"/>
<path fill="#b83b6f" d="M12 21h1v1h-1zM10 26h1v1h-1z"/>
<path fill="#9f4c99" d="M16 21h1v1h-1zM20 27h1v1h-1zM23 33h1v1h-1z"/>
<path fill="#b83f73" d="M12 22h1v1h-1zM8 39h1v1h-1z"/>
<path fill="#b86195" d="M14 22h1v1h-1zM17 54h1v1h-1z"/>
<path fill="#b76499" d="M15 22h1v1h-1zM21 29h1v1h-1zM25 31h1v1h-1zM16 33h1v1h-1zM14 36h1v1h-1zM18 47h1v1h-1z"/>
<path fill="#b56299" d="M16 22h2v1h-2zM20 28h1v1h-1zM20 31h1v1h-1zM25 33h1v1h-1zM15 35h1v1h-1zM17 45h1v1h-1zM18 56h1v1h-1z"/>
<path fill="#b46199" d="M18 22h1v1h-1zM16 44h1v1h-1zM19 58h1v1h-1z"/>
<path fill="#b15e99" d="M19 22h1v1h-1zM18 24h1v1h-1zM26 32h1v1h-1z"/>
<path fill="#b8366a" d="M11 23h1v1h-1zM9 27h1v1h-1zM9 28h1v1h-1zM10 30h1v1h-1zM11 31h1v1h-1zM12 32h1v1h-1zM12 34h1v1h-1zM9 37h1v1h-1z"/>
<path fill="#b84276" d="M12 23h1v1h-1zM11 26h1v1h-1zM11 27h1v1h-1zM13 30h1v1h-1zM14 33h1v1h-1z"/>
<path fill="#b66399" d="M18 23h1v1h-1zM19 28h1v1h-1zM24 29h1v1h-1zM25 30h1v1h-1zM19 31h1v1h-1zM25 32h1v1h-1zM24 33h1v1h-1zM19 59h1v1h-1z"/>
<path fill="#b25f99" d="M19 23h1v1h-1zM25 29h1v1h-1z"/>
<path fill="#b83d71" d="M11 24h1v1h-1zM10 27h1v1h-1zM13 34h1v1h-1zM12 36h1v1h-1zM8 40h1v1h-1zM9 41h1v1h-1zM12 42h1v1h-1z"/>
<path fill="#b84a7e" d="M12 24h1v1h-1zM12 26h1v1h-1zM14 34h1v1h-1zM18 59h1v1h-1z"/>
<path fill="#944199" d="M19 24h1v1h-1zM14 38h1v1h-1zM19 54h1v1h-1z"/>
<path fill="#b8376b" d="M10 25h1v1h-1zM11 36h1v1h-1zM10 37h1v1h-1z"/>
<path fill="#b84175" d="M11 25h1v1h-1zM12 29h1v1h-1zM14 31h1v1h-1zM13 35h1v1h-1zM10 41h1v1h-1z"/>
<path fill="#b84b7f" d="M12 25h1v1h-1zM13 28h1v1h-1zM14 29h1v1h-1zM12 37h1v1h-1z"/>
<path fill="#a95699" d="M18 25h1v1h-1zM26 28h1v1h-1z"/>
<path fill="#843199" d="M20 25h1v1h-1zM24 26h1v1h-1zM18 33h1v1h-1zM23 34h1v1h-1zM17 39h1v1h-1zM18 44h1v1h-1zM20 53h1v1h-1z"/>
<path fill="#b83468" d="M9 26h1v1h-1zM9 30h1v1h-1zM11 32h1v1h-1zM11 34h1v1h-1zM10 36h1v1h-1z"/>
<path fill="#883599" d="M20 26h1v1h-1zM21 55h1v1h-1z"/>
<path fill="#b8487c" d="M12 27h1v1h-1zM15 32h1v1h-1zM10 39h1v1h-1zM10 40h1v1h-1z"/>
<path fill="#a04d99" d="M21 27h1v1h-1zM27 27h1v1h-1zM19 32h2v1h-2zM16 34h1v1h-1zM16 43h1v1h-1zM20 58h1v1h-1z"/>
<path fill="#b84074" d="M11 28h1v1h-1zM14 32h1v1h-1zM10 38h1v1h-1z"/>
<path fill="#b84579" d="M12 28h1v1h-1zM15 31h1v1h-1zM9 39h1v1h-1zM9 40h1v1h-1z"/>
<path fill="#b36099" d="M21 28h1v1h-1z"/>
<path fill="#aa5799" d="M25 28h1v1h-1zM27 29h1v1h-1z"/>
<path fill="#a85599" d="M27 28h1v1h-1zM27 30h1v1h-1zM27 31h1v1h-1z"/>
<path fill="#b83569" d="M9 29h1v1h-1zM12 33h1v1h-1zM11 35h1v1h-1zM16 55h1v1h-1z"/>
<path fill="#b8477b" d="M13 29h1v1h-1zM15 30h1v1h-1z"/>
<path fill="#b85286" d="M15 29h1v1h-1z"/>
<path fill="#b86599" d="M20 29h1v1h-1zM22 29h2v1h-2zM20 30h1v1h-1zM18 31h1v1h-1zM21 31h1v1h-1zM23 32h1v1h-1zM18 53h1v1h-1zM17 55h1v1h-1z"/>
<path fill="#b84478" d="M14 30h1v1h-1z"/>
<path fill="#b85185" d="M16 30h1v1h-1z"/>
<path fill="#ad5a99" d="M26 30h1v1h-1zM22 32h1v1h-1zM27 33h1v1h-1z"/>
<path fill="#b8265a" d="M7 31h1v1h-1zM7 37h1v1h-1zM7 38h1v1h-1zM7 39h1v1h-1zM7 40h1v1h-1zM9 42h2v1h-2zM13 47h1v1h-1z"/>
<path fill="#b82d61" d="M8 31h1v1h-1zM9 32h1v1h-1zM15 45h1v1h-1zM17 52h1v1h-1zM15 55h1v1h-1zM16 56h1v1h-1z"/>
<path fill="#a24f99" d="M18 32h1v1h-1zM21 32h1v1h-1zM16 35h1v1h-1z"/>
<path fill="#b82c60" d="M9 33h1v1h-1zM8 36h1v1h-1z"/>
<path fill="#b84d81" d="M15 33h1v1h-1z"/>
<path fill="#923f99" d="M17 33h1v1h-1zM20 57h1v1h-1z"/>
<path fill="#913e99" d="M22 33h1v1h-1zM18 36h1v1h-1zM18 37h1v1h-1zM17 38h1v1h-1zM20 55h1v1h-1z"/>
<path fill="#7c2999" d="M18 34h1v1h-1zM17 41h1v1h-1zM16 42h1v1h-1zM19 43h1v1h-1zM20 44h1v1h-1zM23 49h1v1h-1zM21 50h1v1h-1z"/>
<path fill="#b80a3e" d="M4 36h1v1h-1zM4 41h1v1h-1zM7 56h1v1h-1zM5 59h1v1h-1z"/>
<path fill="#b84377" d="M11 38h1v1h-1zM11 41h1v1h-1zM18 58h1v1h-1z"/>
<path fill="#b84c80" d="M11 39h1v1h-1zM11 40h1v1h-1z"/>
<path fill="#8e3b99" d="M14 41h1v1h-1zM19 50h1v1h-1z"/>
<path fill="#7b2899" d="M17 42h1v1h-1zM20 45h1v1h-1zM20 47h1v1h-1zM22 48h1v1h-1zM20 52h2v1h-2z"/>
<path fill="#b81f53" d="M11 43h1v1h-1zM15 58h1v1h-1zM16 59h1v1h-1z"/>
<path fill="#af5c99" d="M18 46h1v1h-1zM18 54h1v1h-1z"/>
<path fill="#b82054" d="M12 48h1v1h-1z"/>
<path fill="#873499" d="M21 54h1v1h-1z"/>
</svg>
<svg class="dots" viewBox="0 0 567 1215"><circle cx="279.1" cy="10.3" r="1.4"/><circle cx="276.4" cy="30.4" r="1.4"/><circle cx="273.4" cy="34.3" r="1.4"/><circle cx="257.3" cy="51.3" r="1.4"/><circle cx="253.3" cy="56.4" r="1.4"/><circle cx="241.3" cy="71.4" r="1.4"/><circle cx="234.5" cy="91.5" r="1.4"/><circle cx="246.2" cy="111.3" r="1.4"/><circle cx="253.3" cy="117.5" r="1.4"/><circle cx="268.3" cy="132.4" r="1.4"/><circle cx="272.2" cy="152.3" r="1.4"/><circle cx="267.3" cy="172.4" r="1.4"/><circle cx="262.2" cy="192.3" r="1.4"/><circle cx="253.3" cy="208.5" r="1.4"/><circle cx="250.4" cy="213.4" r="1.4"/><circle cx="234.7" cy="233.5" r="1.4"/><circle cx="233.0" cy="234.7" r="1.4"/><circle cx="213.4" cy="246.5" r="1.4"/><circle cx="201.3" cy="253.3" r="1.4"/><circle cx="192.5" cy="259.5" r="1.4"/><circle cx="181.2" cy="273.4" r="1.4"/><circle cx="180.3" cy="294.5" r="1.4"/><circle cx="187.4" cy="314.3" r="1.4"/><circle cx="192.5" cy="322.4" r="1.4"/><circle cx="201.3" cy="334.4" r="1.4"/><circle cx="213.4" cy="343.2" r="1.4"/><circle cx="233.2" cy="353.3" r="1.4"/><circle cx="238.4" cy="354.5" r="1.4"/><circle cx="253.3" cy="362.4" r="1.4"/><circle cx="273.4" cy="373.4" r="1.4"/><circle cx="276.4" cy="375.4" r="1.4"/><circle cx="280.3" cy="395.5" r="1.4"/><circle cx="273.4" cy="409.5" r="1.4"/><circle cx="271.2" cy="415.3" r="1.4"/><circle cx="268.3" cy="435.4" r="1.4"/><circle cx="269.3" cy="456.3" r="1.4"/><circle cx="273.4" cy="467.3" r="1.4"/><circle cx="293.3" cy="476.4" r="1.4"/><circle cx="294.5" cy="476.4" r="1.4"/><circle cx="314.4" cy="480.3" r="1.4"/><circle cx="326.4" cy="476.4" r="1.4"/><circle cx="334.5" cy="474.2" r="1.4"/><circle cx="342.4" cy="476.4" r="1.4"/><circle cx="354.4" cy="486.2" r="1.4"/><circle cx="356.3" cy="496.5" r="1.4"/><circle cx="354.4" cy="515.4" r="1.4"/><circle cx="354.4" cy="516.4" r="1.4"/><circle cx="345.3" cy="537.2" r="1.4"/><circle cx="347.3" cy="557.3" r="1.4"/><circle cx="354.4" cy="566.4" r="1.4"/><circle cx="364.4" cy="577.4" r="1.4"/><circle cx="375.2" cy="591.4" r="1.4"/><circle cx="389.2" cy="597.3" r="1.4"/><circle cx="395.3" cy="607.4" r="1.4"/><circle cx="406.4" cy="618.3" r="1.4"/><circle cx="395.3" cy="620.3" r="1.4"/><circle cx="375.2" cy="628.4" r="1.4"/><circle cx="358.3" cy="638.4" r="1.4"/><circle cx="354.4" cy="639.4" r="1.4"/><circle cx="334.5" cy="656.3" r="1.4"/><circle cx="332.5" cy="658.5" r="1.4"/><circle cx="323.5" cy="678.4" r="1.4"/><circle cx="314.4" cy="693.3" r="1.4"/><circle cx="309.3" cy="699.5" r="1.4"/><circle cx="298.2" cy="719.3" r="1.4"/><circle cx="294.3" cy="728.4" r="1.4"/><circle cx="289.4" cy="739.4" r="1.4"/><circle cx="273.4" cy="758.3" r="1.4"/><circle cx="272.2" cy="759.3" r="1.4"/><circle cx="256.3" cy="780.4" r="1.4"/><circle cx="253.3" cy="787.5" r="1.4"/><circle cx="249.2" cy="800.5" r="1.4"/><circle cx="249.2" cy="820.4" r="1.4"/><circle cx="253.3" cy="832.4" r="1.4"/><circle cx="256.3" cy="840.5" r="1.4"/><circle cx="267.3" cy="861.3" r="1.4"/><circle cx="273.4" cy="866.5" r="1.4"/><circle cx="294.3" cy="879.2" r="1.4"/><circle cx="296.3" cy="881.4" r="1.4"/><circle cx="314.4" cy="889.3" r="1.4"/><circle cx="334.5" cy="900.3" r="1.4"/><circle cx="335.5" cy="901.3" r="1.4"/><circle cx="352.4" cy="921.3" r="1.4"/><circle cx="354.4" cy="926.2" r="1.4"/><circle cx="364.4" cy="942.4" r="1.4"/><circle cx="373.3" cy="962.3" r="1.4"/><circle cx="375.2" cy="966.4" r="1.4"/><circle cx="377.2" cy="982.4" r="1.4"/><circle cx="379.4" cy="1002.5" r="1.4"/><circle cx="381.4" cy="1023.3" r="1.4"/><circle cx="381.4" cy="1043.4" r="1.4"/><circle cx="380.4" cy="1063.3" r="1.4"/><circle cx="376.4" cy="1083.9" r="1.4"/><circle cx="375.2" cy="1086.3" r="1.4"/><circle cx="363.4" cy="1104.5" r="1.4"/><circle cx="358.3" cy="1124.4" r="1.4"/><circle cx="372.3" cy="1144.2" r="1.4"/><circle cx="375.2" cy="1149.4" r="1.4"/><circle cx="382.3" cy="1164.3" r="1.4"/><circle cx="387.2" cy="1185.4" r="1.4"/><circle cx="388.2" cy="1205.5" r="1.4"/></svg>
</div>
</body></html>
